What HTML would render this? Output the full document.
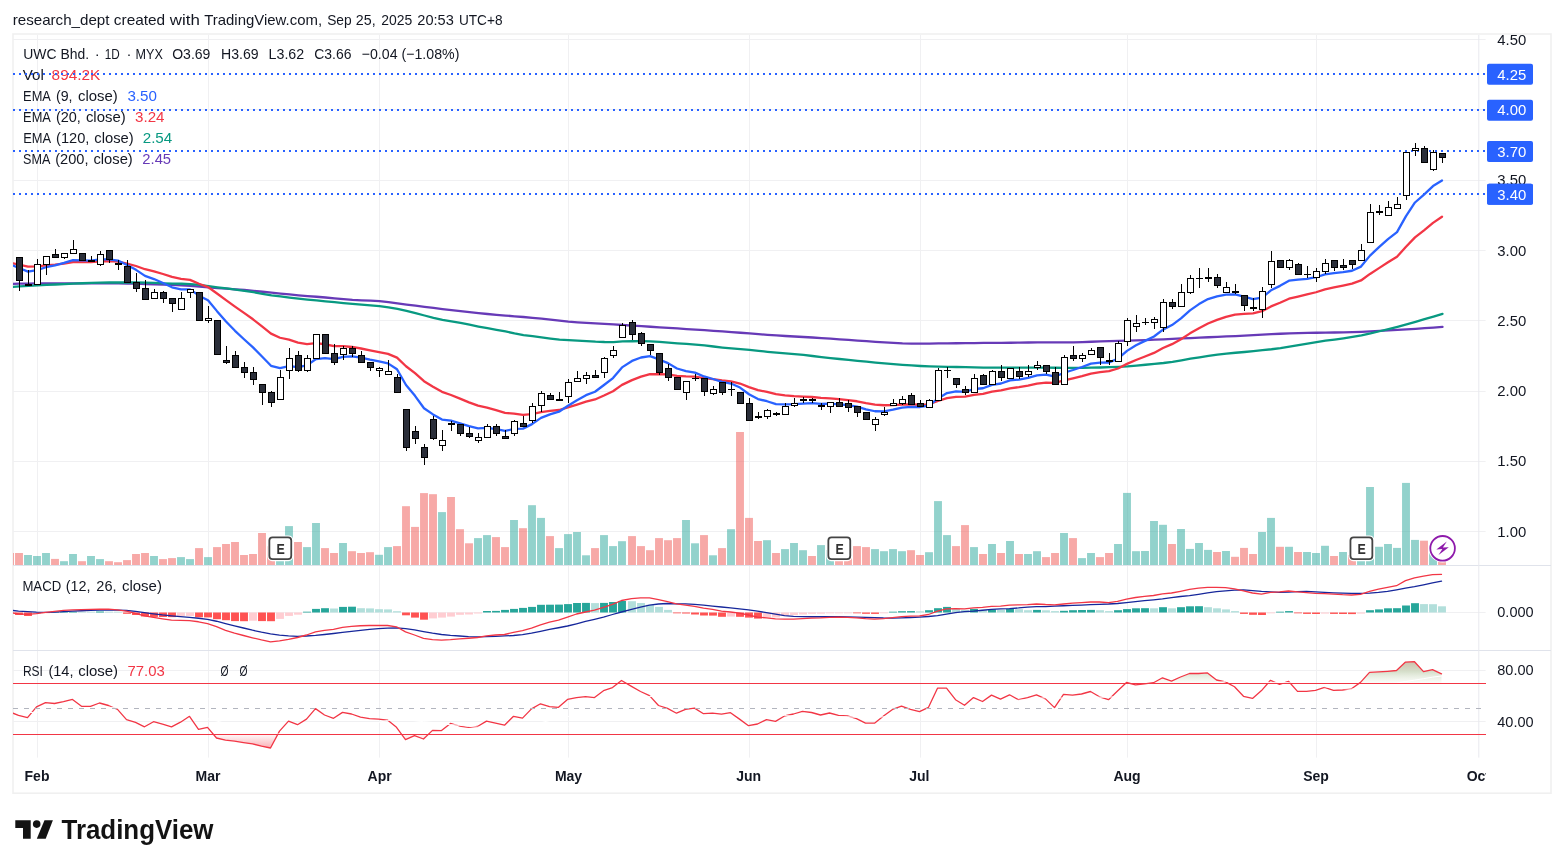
<!DOCTYPE html>
<html><head><meta charset="utf-8"><title>UWC Bhd. chart</title>
<style>html,body{margin:0;padding:0;background:#fff;}body{width:1564px;height:868px;overflow:hidden;font-family:"Liberation Sans",sans-serif;}svg{display:block;will-change:transform;}text{font-family:"Liberation Sans",sans-serif;}</style>
</head><body>
<svg width="1564" height="868" viewBox="0 0 1564 868">
<defs>
<clipPath id="cpMain"><rect x="13" y="35" width="1465.8" height="530"/></clipPath>
<clipPath id="cpMacd"><rect x="13" y="565.6" width="1465.8" height="84.4"/></clipPath>
<clipPath id="cpRsi"><rect x="13" y="650.8" width="1465.8" height="107"/></clipPath>
<clipPath id="cpOct"><rect x="1400" y="760" width="86" height="30"/></clipPath>
<linearGradient id="gOB" gradientUnits="userSpaceOnUse" x1="0" y1="660" x2="0" y2="683.5"><stop offset="0" stop-color="#c9b8a2" stop-opacity="0.95"/><stop offset="0.5" stop-color="#d2dcc6" stop-opacity="0.9"/><stop offset="1" stop-color="#e6efde" stop-opacity="0.15"/></linearGradient>
<linearGradient id="gOS" gradientUnits="userSpaceOnUse" x1="0" y1="734.5" x2="0" y2="750"><stop offset="0" stop-color="#f23645" stop-opacity="0.03"/><stop offset="1" stop-color="#f23645" stop-opacity="0.45"/></linearGradient>
</defs>
<rect x="0" y="0" width="1564" height="868" fill="#ffffff"/>
<rect x="13" y="34" width="1538" height="759.2" fill="none" stroke="#f0f0f0" stroke-width="1.6"/>
<g stroke="#f0f0f2" stroke-width="1" shape-rendering="auto">
<line x1="37.5" y1="35" x2="37.5" y2="757.6"/>
<line x1="208.5" y1="35" x2="208.5" y2="757.6"/>
<line x1="379.5" y1="35" x2="379.5" y2="757.6"/>
<line x1="568.5" y1="35" x2="568.5" y2="757.6"/>
<line x1="749.5" y1="35" x2="749.5" y2="757.6"/>
<line x1="920.5" y1="35" x2="920.5" y2="757.6"/>
<line x1="1127.5" y1="35" x2="1127.5" y2="757.6"/>
<line x1="1316.5" y1="35" x2="1316.5" y2="757.6"/>
<line x1="13" y1="39.5" x2="1485.6" y2="39.5"/>
<line x1="13" y1="109.5" x2="1485.6" y2="109.5"/>
<line x1="13" y1="180.5" x2="1485.6" y2="180.5"/>
<line x1="13" y1="250.5" x2="1485.6" y2="250.5"/>
<line x1="13" y1="320.5" x2="1485.6" y2="320.5"/>
<line x1="13" y1="391.5" x2="1485.6" y2="391.5"/>
<line x1="13" y1="461.5" x2="1485.6" y2="461.5"/>
<line x1="13" y1="531.5" x2="1485.6" y2="531.5"/>
<line x1="13" y1="670.5" x2="1485.6" y2="670.5"/>
<line x1="13" y1="721.5" x2="1485.6" y2="721.5"/>
</g>
<line x1="13" y1="612.5" x2="1485.6" y2="612.5" stroke="#f0f0f2" stroke-width="1"/>
<g stroke="#e0e3eb" stroke-width="1">
<line x1="13" y1="565.5" x2="1551" y2="565.5"/>
<line x1="13" y1="650.5" x2="1551" y2="650.5"/>
</g>
<line x1="1478.8" y1="35" x2="1478.8" y2="757.6" stroke="#e8e9ee" stroke-width="1"/>
<g clip-path="url(#cpMain)">
<rect x="6.05" y="553" width="7.9" height="12" fill="rgba(239,83,80,0.5)"/>
<rect x="15.05" y="553" width="7.9" height="12" fill="rgba(239,83,80,0.5)"/>
<rect x="24.05" y="555" width="7.9" height="10" fill="rgba(38,166,154,0.5)"/>
<rect x="33.05" y="556" width="7.9" height="9" fill="rgba(38,166,154,0.5)"/>
<rect x="42.05" y="553" width="7.9" height="12" fill="rgba(38,166,154,0.5)"/>
<rect x="51.05" y="558.9" width="7.9" height="6.1" fill="rgba(239,83,80,0.5)"/>
<rect x="60.05" y="561.2" width="7.9" height="3.8" fill="rgba(38,166,154,0.5)"/>
<rect x="69.05" y="554" width="7.9" height="11" fill="rgba(38,166,154,0.5)"/>
<rect x="78.05" y="561.2" width="7.9" height="3.8" fill="rgba(239,83,80,0.5)"/>
<rect x="87.05" y="556" width="7.9" height="9" fill="rgba(38,166,154,0.5)"/>
<rect x="96.05" y="559.1" width="7.9" height="5.9" fill="rgba(38,166,154,0.5)"/>
<rect x="105.05" y="561.2" width="7.9" height="3.8" fill="rgba(239,83,80,0.5)"/>
<rect x="114.05" y="562.2" width="7.9" height="2.8" fill="rgba(239,83,80,0.5)"/>
<rect x="123.05" y="560.1" width="7.9" height="4.9" fill="rgba(239,83,80,0.5)"/>
<rect x="132.05" y="554" width="7.9" height="11" fill="rgba(239,83,80,0.5)"/>
<rect x="141.05" y="553" width="7.9" height="12" fill="rgba(239,83,80,0.5)"/>
<rect x="150.05" y="556" width="7.9" height="9" fill="rgba(38,166,154,0.5)"/>
<rect x="159.05" y="559.1" width="7.9" height="5.9" fill="rgba(239,83,80,0.5)"/>
<rect x="168.05" y="558.1" width="7.9" height="6.9" fill="rgba(239,83,80,0.5)"/>
<rect x="177.05" y="557.1" width="7.9" height="7.9" fill="rgba(38,166,154,0.5)"/>
<rect x="186.05" y="559.1" width="7.9" height="5.9" fill="rgba(38,166,154,0.5)"/>
<rect x="195.05" y="548.1" width="7.9" height="16.9" fill="rgba(239,83,80,0.5)"/>
<rect x="204.05" y="557.1" width="7.9" height="7.9" fill="rgba(38,166,154,0.5)"/>
<rect x="213.05" y="547.1" width="7.9" height="17.9" fill="rgba(239,83,80,0.5)"/>
<rect x="222.05" y="544" width="7.9" height="21" fill="rgba(239,83,80,0.5)"/>
<rect x="231.05" y="542" width="7.9" height="23" fill="rgba(239,83,80,0.5)"/>
<rect x="240.05" y="555" width="7.9" height="10" fill="rgba(239,83,80,0.5)"/>
<rect x="249.05" y="554" width="7.9" height="11" fill="rgba(239,83,80,0.5)"/>
<rect x="258.05" y="533" width="7.9" height="32" fill="rgba(239,83,80,0.5)"/>
<rect x="267.05" y="546.2" width="7.9" height="18.8" fill="rgba(239,83,80,0.5)"/>
<rect x="276.05" y="552" width="7.9" height="13" fill="rgba(38,166,154,0.5)"/>
<rect x="285.05" y="526.1" width="7.9" height="38.9" fill="rgba(38,166,154,0.5)"/>
<rect x="294.05" y="542" width="7.9" height="23" fill="rgba(239,83,80,0.5)"/>
<rect x="303.05" y="547.1" width="7.9" height="17.9" fill="rgba(38,166,154,0.5)"/>
<rect x="312.05" y="523" width="7.9" height="42" fill="rgba(38,166,154,0.5)"/>
<rect x="321.05" y="548.1" width="7.9" height="16.9" fill="rgba(239,83,80,0.5)"/>
<rect x="330.05" y="553" width="7.9" height="12" fill="rgba(239,83,80,0.5)"/>
<rect x="339.05" y="543" width="7.9" height="22" fill="rgba(38,166,154,0.5)"/>
<rect x="348.05" y="551.2" width="7.9" height="13.8" fill="rgba(239,83,80,0.5)"/>
<rect x="357.05" y="553" width="7.9" height="12" fill="rgba(239,83,80,0.5)"/>
<rect x="366.05" y="552.2" width="7.9" height="12.8" fill="rgba(239,83,80,0.5)"/>
<rect x="375.05" y="554.8" width="7.9" height="10.2" fill="rgba(38,166,154,0.5)"/>
<rect x="384.05" y="547.1" width="7.9" height="17.9" fill="rgba(38,166,154,0.5)"/>
<rect x="393.05" y="546.1" width="7.9" height="18.9" fill="rgba(239,83,80,0.5)"/>
<rect x="402.05" y="506.2" width="7.9" height="58.8" fill="rgba(239,83,80,0.5)"/>
<rect x="411.05" y="526.9" width="7.9" height="38.1" fill="rgba(239,83,80,0.5)"/>
<rect x="420.05" y="493.1" width="7.9" height="71.9" fill="rgba(239,83,80,0.5)"/>
<rect x="429.05" y="494.2" width="7.9" height="70.8" fill="rgba(239,83,80,0.5)"/>
<rect x="438.05" y="512.1" width="7.9" height="52.9" fill="rgba(38,166,154,0.5)"/>
<rect x="447.05" y="497" width="7.9" height="68" fill="rgba(239,83,80,0.5)"/>
<rect x="456.05" y="529.2" width="7.9" height="35.8" fill="rgba(239,83,80,0.5)"/>
<rect x="465.05" y="543.3" width="7.9" height="21.7" fill="rgba(239,83,80,0.5)"/>
<rect x="474.05" y="538.1" width="7.9" height="26.9" fill="rgba(38,166,154,0.5)"/>
<rect x="483.05" y="535.1" width="7.9" height="29.9" fill="rgba(38,166,154,0.5)"/>
<rect x="492.05" y="537.1" width="7.9" height="27.9" fill="rgba(239,83,80,0.5)"/>
<rect x="501.05" y="547.1" width="7.9" height="17.9" fill="rgba(239,83,80,0.5)"/>
<rect x="510.05" y="520" width="7.9" height="45" fill="rgba(38,166,154,0.5)"/>
<rect x="519.05" y="528.2" width="7.9" height="36.8" fill="rgba(239,83,80,0.5)"/>
<rect x="528.05" y="505.2" width="7.9" height="59.8" fill="rgba(38,166,154,0.5)"/>
<rect x="537.05" y="517.9" width="7.9" height="47.1" fill="rgba(38,166,154,0.5)"/>
<rect x="546.05" y="536.1" width="7.9" height="28.9" fill="rgba(239,83,80,0.5)"/>
<rect x="555.05" y="548.1" width="7.9" height="16.9" fill="rgba(38,166,154,0.5)"/>
<rect x="564.05" y="534.1" width="7.9" height="30.9" fill="rgba(38,166,154,0.5)"/>
<rect x="573.05" y="532" width="7.9" height="33" fill="rgba(38,166,154,0.5)"/>
<rect x="582.05" y="555.3" width="7.9" height="9.7" fill="rgba(38,166,154,0.5)"/>
<rect x="591.05" y="548.1" width="7.9" height="16.9" fill="rgba(239,83,80,0.5)"/>
<rect x="600.05" y="535.1" width="7.9" height="29.9" fill="rgba(38,166,154,0.5)"/>
<rect x="609.05" y="546.1" width="7.9" height="18.9" fill="rgba(38,166,154,0.5)"/>
<rect x="618.05" y="541.2" width="7.9" height="23.8" fill="rgba(38,166,154,0.5)"/>
<rect x="628.05" y="536.1" width="7.9" height="28.9" fill="rgba(239,83,80,0.5)"/>
<rect x="637.05" y="546.1" width="7.9" height="18.9" fill="rgba(239,83,80,0.5)"/>
<rect x="646.05" y="550.2" width="7.9" height="14.8" fill="rgba(239,83,80,0.5)"/>
<rect x="655.05" y="538.1" width="7.9" height="26.9" fill="rgba(239,83,80,0.5)"/>
<rect x="664.05" y="540.2" width="7.9" height="24.8" fill="rgba(239,83,80,0.5)"/>
<rect x="673.05" y="538.1" width="7.9" height="26.9" fill="rgba(239,83,80,0.5)"/>
<rect x="682.05" y="520" width="7.9" height="45" fill="rgba(38,166,154,0.5)"/>
<rect x="691.05" y="543.3" width="7.9" height="21.7" fill="rgba(38,166,154,0.5)"/>
<rect x="700.05" y="535.1" width="7.9" height="29.9" fill="rgba(239,83,80,0.5)"/>
<rect x="709.05" y="555.3" width="7.9" height="9.7" fill="rgba(38,166,154,0.5)"/>
<rect x="718.05" y="548.1" width="7.9" height="16.9" fill="rgba(239,83,80,0.5)"/>
<rect x="727.05" y="529.2" width="7.9" height="35.8" fill="rgba(38,166,154,0.5)"/>
<rect x="736.05" y="432" width="7.9" height="133" fill="rgba(239,83,80,0.5)"/>
<rect x="745.05" y="517.9" width="7.9" height="47.1" fill="rgba(239,83,80,0.5)"/>
<rect x="754.05" y="541" width="7.9" height="24" fill="rgba(239,83,80,0.5)"/>
<rect x="763.05" y="540.2" width="7.9" height="24.8" fill="rgba(38,166,154,0.5)"/>
<rect x="772.05" y="553" width="7.9" height="12" fill="rgba(239,83,80,0.5)"/>
<rect x="781.05" y="549.1" width="7.9" height="15.9" fill="rgba(38,166,154,0.5)"/>
<rect x="790.05" y="543" width="7.9" height="22" fill="rgba(38,166,154,0.5)"/>
<rect x="799.05" y="550.2" width="7.9" height="14.8" fill="rgba(38,166,154,0.5)"/>
<rect x="808.05" y="556" width="7.9" height="9" fill="rgba(239,83,80,0.5)"/>
<rect x="817.05" y="545.1" width="7.9" height="19.9" fill="rgba(38,166,154,0.5)"/>
<rect x="826.05" y="550" width="7.9" height="15" fill="rgba(38,166,154,0.5)"/>
<rect x="835.05" y="555" width="7.9" height="10" fill="rgba(239,83,80,0.5)"/>
<rect x="844.05" y="553" width="7.9" height="12" fill="rgba(239,83,80,0.5)"/>
<rect x="853.05" y="546.1" width="7.9" height="18.9" fill="rgba(239,83,80,0.5)"/>
<rect x="862.05" y="547.1" width="7.9" height="17.9" fill="rgba(239,83,80,0.5)"/>
<rect x="871.05" y="549.1" width="7.9" height="15.9" fill="rgba(38,166,154,0.5)"/>
<rect x="880.05" y="551.2" width="7.9" height="13.8" fill="rgba(38,166,154,0.5)"/>
<rect x="889.05" y="549.1" width="7.9" height="15.9" fill="rgba(38,166,154,0.5)"/>
<rect x="898.05" y="551.2" width="7.9" height="13.8" fill="rgba(38,166,154,0.5)"/>
<rect x="907.05" y="550.2" width="7.9" height="14.8" fill="rgba(239,83,80,0.5)"/>
<rect x="916.05" y="555" width="7.9" height="10" fill="rgba(239,83,80,0.5)"/>
<rect x="925.05" y="552.2" width="7.9" height="12.8" fill="rgba(38,166,154,0.5)"/>
<rect x="934.05" y="501.1" width="7.9" height="63.9" fill="rgba(38,166,154,0.5)"/>
<rect x="943.05" y="535.1" width="7.9" height="29.9" fill="rgba(38,166,154,0.5)"/>
<rect x="952.05" y="546.1" width="7.9" height="18.9" fill="rgba(239,83,80,0.5)"/>
<rect x="961.05" y="525.1" width="7.9" height="39.9" fill="rgba(239,83,80,0.5)"/>
<rect x="970.05" y="547.1" width="7.9" height="17.9" fill="rgba(38,166,154,0.5)"/>
<rect x="979.05" y="554" width="7.9" height="11" fill="rgba(239,83,80,0.5)"/>
<rect x="988.05" y="544" width="7.9" height="21" fill="rgba(38,166,154,0.5)"/>
<rect x="997.05" y="553" width="7.9" height="12" fill="rgba(239,83,80,0.5)"/>
<rect x="1006.05" y="541" width="7.9" height="24" fill="rgba(38,166,154,0.5)"/>
<rect x="1015.05" y="554" width="7.9" height="11" fill="rgba(239,83,80,0.5)"/>
<rect x="1024.05" y="554" width="7.9" height="11" fill="rgba(38,166,154,0.5)"/>
<rect x="1033.05" y="551.2" width="7.9" height="13.8" fill="rgba(38,166,154,0.5)"/>
<rect x="1042.05" y="557.1" width="7.9" height="7.9" fill="rgba(239,83,80,0.5)"/>
<rect x="1051.05" y="553" width="7.9" height="12" fill="rgba(239,83,80,0.5)"/>
<rect x="1060.05" y="533" width="7.9" height="32" fill="rgba(38,166,154,0.5)"/>
<rect x="1069.05" y="538.1" width="7.9" height="26.9" fill="rgba(239,83,80,0.5)"/>
<rect x="1078.05" y="558.1" width="7.9" height="6.9" fill="rgba(38,166,154,0.5)"/>
<rect x="1087.05" y="553" width="7.9" height="12" fill="rgba(38,166,154,0.5)"/>
<rect x="1096.05" y="557.1" width="7.9" height="7.9" fill="rgba(239,83,80,0.5)"/>
<rect x="1105.05" y="553" width="7.9" height="12" fill="rgba(239,83,80,0.5)"/>
<rect x="1114.05" y="544" width="7.9" height="21" fill="rgba(38,166,154,0.5)"/>
<rect x="1123.05" y="492.9" width="7.9" height="72.1" fill="rgba(38,166,154,0.5)"/>
<rect x="1132.05" y="551.2" width="7.9" height="13.8" fill="rgba(38,166,154,0.5)"/>
<rect x="1141.05" y="551" width="7.9" height="14" fill="rgba(38,166,154,0.5)"/>
<rect x="1150.05" y="521" width="7.9" height="44" fill="rgba(38,166,154,0.5)"/>
<rect x="1159.05" y="524.8" width="7.9" height="40.2" fill="rgba(38,166,154,0.5)"/>
<rect x="1168.05" y="544" width="7.9" height="21" fill="rgba(239,83,80,0.5)"/>
<rect x="1177.05" y="529" width="7.9" height="36" fill="rgba(38,166,154,0.5)"/>
<rect x="1186.05" y="548.9" width="7.9" height="16.1" fill="rgba(38,166,154,0.5)"/>
<rect x="1195.05" y="543" width="7.9" height="22" fill="rgba(38,166,154,0.5)"/>
<rect x="1204.05" y="549.9" width="7.9" height="15.1" fill="rgba(38,166,154,0.5)"/>
<rect x="1213.05" y="552" width="7.9" height="13" fill="rgba(239,83,80,0.5)"/>
<rect x="1222.05" y="551" width="7.9" height="14" fill="rgba(38,166,154,0.5)"/>
<rect x="1231.05" y="556.8" width="7.9" height="8.2" fill="rgba(239,83,80,0.5)"/>
<rect x="1240.05" y="547.9" width="7.9" height="17.1" fill="rgba(239,83,80,0.5)"/>
<rect x="1249.05" y="554" width="7.9" height="11" fill="rgba(239,83,80,0.5)"/>
<rect x="1258.05" y="532" width="7.9" height="33" fill="rgba(38,166,154,0.5)"/>
<rect x="1267.05" y="517.9" width="7.9" height="47.1" fill="rgba(38,166,154,0.5)"/>
<rect x="1276.05" y="546.8" width="7.9" height="18.2" fill="rgba(239,83,80,0.5)"/>
<rect x="1285.05" y="546.8" width="7.9" height="18.2" fill="rgba(38,166,154,0.5)"/>
<rect x="1294.05" y="552" width="7.9" height="13" fill="rgba(239,83,80,0.5)"/>
<rect x="1303.05" y="552" width="7.9" height="13" fill="rgba(38,166,154,0.5)"/>
<rect x="1312.05" y="553" width="7.9" height="12" fill="rgba(38,166,154,0.5)"/>
<rect x="1321.05" y="545.8" width="7.9" height="19.2" fill="rgba(38,166,154,0.5)"/>
<rect x="1330.05" y="556" width="7.9" height="9" fill="rgba(239,83,80,0.5)"/>
<rect x="1339.05" y="552" width="7.9" height="13" fill="rgba(38,166,154,0.5)"/>
<rect x="1348.05" y="555" width="7.9" height="10" fill="rgba(239,83,80,0.5)"/>
<rect x="1357.05" y="551" width="7.9" height="14" fill="rgba(38,166,154,0.5)"/>
<rect x="1366.05" y="487" width="7.9" height="78" fill="rgba(38,166,154,0.5)"/>
<rect x="1375.05" y="546.8" width="7.9" height="18.2" fill="rgba(38,166,154,0.5)"/>
<rect x="1384.05" y="544" width="7.9" height="21" fill="rgba(38,166,154,0.5)"/>
<rect x="1393.05" y="547.9" width="7.9" height="17.1" fill="rgba(38,166,154,0.5)"/>
<rect x="1402.05" y="482.9" width="7.9" height="82.1" fill="rgba(38,166,154,0.5)"/>
<rect x="1411.05" y="539.9" width="7.9" height="25.1" fill="rgba(38,166,154,0.5)"/>
<rect x="1420.05" y="540.7" width="7.9" height="24.3" fill="rgba(239,83,80,0.5)"/>
<rect x="1429.05" y="552" width="7.9" height="13" fill="rgba(38,166,154,0.5)"/>
<rect x="1438.05" y="556" width="7.9" height="9" fill="rgba(239,83,80,0.5)"/>
</g>
<text x="12.7" y="24.9" font-size="15.0" fill="#131722" textLength="96.8" lengthAdjust="spacingAndGlyphs" >research_dept</text>
<text x="113.8" y="24.9" font-size="15.0" fill="#131722" textLength="51.4" lengthAdjust="spacingAndGlyphs" >created</text>
<text x="169.8" y="24.9" font-size="15.0" fill="#131722" textLength="30" lengthAdjust="spacingAndGlyphs" >with</text>
<text x="204.2" y="24.9" font-size="15.0" fill="#131722" textLength="117.9" lengthAdjust="spacingAndGlyphs" >TradingView.com,</text>
<text x="327.2" y="24.9" font-size="15.0" fill="#131722" textLength="24.5" lengthAdjust="spacingAndGlyphs" >Sep</text>
<text x="355.8" y="24.9" font-size="15.0" fill="#131722" textLength="19.8" lengthAdjust="spacingAndGlyphs" >25,</text>
<text x="381.2" y="24.9" font-size="15.0" fill="#131722" textLength="31" lengthAdjust="spacingAndGlyphs" >2025</text>
<text x="417.3" y="24.9" font-size="15.0" fill="#131722" textLength="36.5" lengthAdjust="spacingAndGlyphs" >20:53</text>
<text x="458.9" y="24.9" font-size="15.0" fill="#131722" textLength="43.6" lengthAdjust="spacingAndGlyphs" >UTC+8</text>
<text x="23.3" y="58.9" font-size="15.0" fill="#131722" textLength="65.8" lengthAdjust="spacingAndGlyphs" >UWC Bhd.</text>
<text x="94.8" y="58.9" font-size="15.0" fill="#131722" >&#183;</text>
<text x="104.7" y="58.9" font-size="15.0" fill="#131722" textLength="15" lengthAdjust="spacingAndGlyphs" >1D</text>
<text x="126.4" y="58.9" font-size="15.0" fill="#131722" >&#183;</text>
<text x="135.6" y="58.9" font-size="15.0" fill="#131722" textLength="27.3" lengthAdjust="spacingAndGlyphs" >MYX</text>
<text x="172.2" y="58.9" font-size="15.0" fill="#131722" textLength="38.2" lengthAdjust="spacingAndGlyphs" >O3.69</text>
<text x="221" y="58.9" font-size="15.0" fill="#131722" textLength="37.6" lengthAdjust="spacingAndGlyphs" >H3.69</text>
<text x="268.6" y="58.9" font-size="15.0" fill="#131722" textLength="35.6" lengthAdjust="spacingAndGlyphs" >L3.62</text>
<text x="314.2" y="58.9" font-size="15.0" fill="#131722" textLength="37.2" lengthAdjust="spacingAndGlyphs" >C3.66</text>
<text x="361.7" y="58.9" font-size="15.0" fill="#131722" textLength="97.7" lengthAdjust="spacingAndGlyphs" >&#8722;0.04 (&#8722;1.08%)</text>
<text x="22.7" y="79.8" font-size="15.0" fill="#131722" textLength="21.1" lengthAdjust="spacingAndGlyphs" >Vol</text>
<text x="51.6" y="79.8" font-size="15.0" fill="#f23645" textLength="48.7" lengthAdjust="spacingAndGlyphs" >894.2K</text>
<text x="23.1" y="100.8" font-size="15.0" fill="#131722" textLength="27.8" lengthAdjust="spacingAndGlyphs" >EMA</text>
<text x="55.9" y="100.8" font-size="15.0" fill="#131722" textLength="16.6" lengthAdjust="spacingAndGlyphs" >(9,</text>
<text x="78" y="100.8" font-size="15.0" fill="#131722" textLength="39.8" lengthAdjust="spacingAndGlyphs" >close)</text>
<text x="127.4" y="100.8" font-size="15.0" fill="#2962ff" textLength="29.5" lengthAdjust="spacingAndGlyphs" >3.50</text>
<text x="23.1" y="121.8" font-size="15.0" fill="#131722" textLength="27.8" lengthAdjust="spacingAndGlyphs" >EMA</text>
<text x="55.9" y="121.8" font-size="15.0" fill="#131722" textLength="24.9" lengthAdjust="spacingAndGlyphs" >(20,</text>
<text x="85.9" y="121.8" font-size="15.0" fill="#131722" textLength="39.8" lengthAdjust="spacingAndGlyphs" >close)</text>
<text x="135" y="121.8" font-size="15.0" fill="#f23645" textLength="29.5" lengthAdjust="spacingAndGlyphs" >3.24</text>
<text x="23.2" y="142.9" font-size="15.0" fill="#131722" textLength="27.9" lengthAdjust="spacingAndGlyphs" >EMA</text>
<text x="56" y="142.9" font-size="15.0" fill="#131722" textLength="33.4" lengthAdjust="spacingAndGlyphs" >(120,</text>
<text x="94.3" y="142.9" font-size="15.0" fill="#131722" textLength="39.4" lengthAdjust="spacingAndGlyphs" >close)</text>
<text x="142.7" y="142.9" font-size="15.0" fill="#089981" textLength="29.6" lengthAdjust="spacingAndGlyphs" >2.54</text>
<text x="23" y="163.9" font-size="15.0" fill="#131722" textLength="27.3" lengthAdjust="spacingAndGlyphs" >SMA</text>
<text x="55.2" y="163.9" font-size="15.0" fill="#131722" textLength="33.3" lengthAdjust="spacingAndGlyphs" >(200,</text>
<text x="93.4" y="163.9" font-size="15.0" fill="#131722" textLength="39.4" lengthAdjust="spacingAndGlyphs" >close)</text>
<text x="142.3" y="163.9" font-size="15.0" fill="#673ab7" textLength="28.8" lengthAdjust="spacingAndGlyphs" >2.45</text>
<text x="22.4" y="590.9" font-size="15.0" fill="#131722" textLength="38.8" lengthAdjust="spacingAndGlyphs" >MACD</text>
<text x="65.8" y="590.9" font-size="15.0" fill="#131722" textLength="24.8" lengthAdjust="spacingAndGlyphs" >(12,</text>
<text x="96.3" y="590.9" font-size="15.0" fill="#131722" textLength="20.2" lengthAdjust="spacingAndGlyphs" >26,</text>
<text x="121.9" y="590.9" font-size="15.0" fill="#131722" textLength="40" lengthAdjust="spacingAndGlyphs" >close)</text>
<text x="22.9" y="675.9" font-size="15.0" fill="#131722" textLength="20" lengthAdjust="spacingAndGlyphs" >RSI</text>
<text x="48.4" y="675.9" font-size="15.0" fill="#131722" textLength="25.1" lengthAdjust="spacingAndGlyphs" >(14,</text>
<text x="78.2" y="675.9" font-size="15.0" fill="#131722" textLength="39.9" lengthAdjust="spacingAndGlyphs" >close)</text>
<text x="127.5" y="675.9" font-size="15.0" fill="#f23645" textLength="37.3" lengthAdjust="spacingAndGlyphs" >77.03</text>
<text x="220.6" y="675.9" font-size="15.0" fill="#131722" textLength="8" lengthAdjust="spacingAndGlyphs" >&#216;</text>
<text x="239.6" y="675.9" font-size="15.0" fill="#131722" textLength="8" lengthAdjust="spacingAndGlyphs" >&#216;</text>
<g stroke="#2962ff" stroke-width="2" stroke-dasharray="2 4" stroke-dashoffset="0">
<line x1="13" y1="74" x2="1486.5" y2="74"/>
<line x1="13" y1="110" x2="1486.5" y2="110"/>
<line x1="13" y1="151" x2="1486.5" y2="151"/>
<line x1="13" y1="194" x2="1486.5" y2="194"/>
</g>
<g clip-path="url(#cpMain)">
<polyline points="13,283.8 19.5,283.7 28.5,283.58 37.5,283.47 46.5,283.38 55.5,283.32 64.5,283.3 73.5,283.3 82.5,283.3 91.5,283.3 100.5,283.3 109.5,283.3 118.5,283.35 127.5,283.5 136.5,283.72 145.5,283.99 154.5,284.29 163.5,284.6 172.5,284.94 181.5,285.38 190.5,285.89 199.5,286.55 208.5,287.34 217.5,288.09 226.5,288.72 235.5,289.32 244.5,289.98 253.5,290.81 262.5,291.75 271.5,292.68 280.5,293.57 289.5,294.45 298.5,295.28 307.5,296.04 316.5,296.75 325.5,297.48 334.5,298.32 343.5,299.18 352.5,299.89 361.5,300.34 370.5,300.7 379.5,301.19 388.5,302.14 397.5,303.41 406.5,304.55 415.5,305.69 424.5,306.83 433.5,307.95 442.5,309.03 451.5,310.1 460.5,311.15 469.5,312.16 478.5,313.12 487.5,314 496.5,314.8 505.5,315.55 514.5,316.28 523.5,317.02 532.5,317.8 541.5,318.65 550.5,319.65 559.5,320.7 568.5,321.62 577.5,322.29 586.5,322.84 595.5,323.35 604.5,323.89 613.5,324.45 622.5,325 632.5,325.63 641.5,326.19 650.5,326.76 659.5,327.33 668.5,327.9 677.5,328.47 686.5,329.05 695.5,329.62 704.5,330.21 713.5,330.81 722.5,331.42 731.5,332.07 740.5,332.77 749.5,333.47 758.5,334.17 767.5,334.83 776.5,335.44 785.5,335.98 794.5,336.48 803.5,337 812.5,337.52 821.5,338.06 830.5,338.64 839.5,339.28 848.5,339.93 857.5,340.56 866.5,341.19 875.5,341.79 884.5,342.34 893.5,342.89 902.5,343.35 911.5,343.59 920.5,343.7 929.5,343.58 938.5,343.45 947.5,343.35 956.5,343.25 965.5,343.15 974.5,343.04 983.5,342.94 992.5,342.86 1001.5,342.8 1010.5,342.74 1019.5,342.65 1028.5,342.52 1037.5,342.41 1046.5,342.4 1055.5,342.4 1064.5,342.4 1073.5,342.35 1082.5,342.08 1091.5,341.73 1100.5,341.45 1109.5,341.19 1118.5,340.92 1127.5,340.63 1136.5,340.34 1145.5,340.03 1154.5,339.69 1163.5,339.3 1172.5,338.89 1181.5,338.46 1190.5,338.04 1199.5,337.64 1208.5,337.24 1217.5,336.84 1226.5,336.44 1235.5,336.04 1244.5,335.63 1253.5,335.2 1262.5,334.71 1271.5,334.2 1280.5,333.73 1289.5,333.32 1298.5,333.03 1307.5,332.87 1316.5,332.76 1325.5,332.63 1334.5,332.5 1343.5,332.36 1352.5,332.17 1361.5,331.81 1370.5,331.32 1379.5,330.82 1388.5,330.38 1397.5,329.96 1406.5,329.44 1415.5,328.82 1424.5,328.18 1433.5,327.55 1442.5,326.91" fill="none" stroke="#673ab7" stroke-width="2.3" stroke-linejoin="round" stroke-linecap="round" />
<polyline points="13,286.8 19.5,286.41 28.5,285.89 37.5,285.39 46.5,284.93 55.5,284.5 64.5,284.1 73.5,283.69 82.5,283.26 91.5,282.88 100.5,282.61 109.5,282.5 118.5,282.5 127.5,282.5 136.5,282.5 145.5,282.65 154.5,282.97 163.5,283.3 172.5,283.53 181.5,283.76 190.5,284.1 199.5,284.86 208.5,286.06 217.5,287.29 226.5,288.4 235.5,289.53 244.5,290.77 253.5,292.23 262.5,293.83 271.5,295.27 280.5,296.47 289.5,297.56 298.5,298.58 307.5,299.52 316.5,300.41 325.5,301.28 334.5,302.17 343.5,303.04 352.5,303.88 361.5,304.63 370.5,305.33 379.5,306.18 388.5,307.31 397.5,308.81 406.5,310.86 415.5,313.22 424.5,315.51 433.5,317.87 442.5,319.92 451.5,321.48 460.5,322.96 469.5,324.72 478.5,326.56 487.5,328.23 496.5,329.77 505.5,331.43 514.5,333.36 523.5,335.05 532.5,336.22 541.5,337.29 550.5,338.53 559.5,339.57 568.5,340.13 577.5,340.53 586.5,341.05 595.5,341.64 604.5,341.99 613.5,342.04 622.5,341.39 632.5,341.25 641.5,341.2 650.5,341.34 659.5,341.8 668.5,342.62 677.5,343.33 686.5,343.95 695.5,344.62 704.5,345.45 713.5,346.51 722.5,347.53 731.5,348.36 740.5,349.13 749.5,349.94 758.5,350.84 767.5,351.78 776.5,352.66 785.5,353.42 794.5,354.15 803.5,354.97 812.5,355.99 821.5,357.08 830.5,358.08 839.5,359 848.5,359.88 857.5,360.79 866.5,361.72 875.5,362.63 884.5,363.44 893.5,364.2 902.5,364.87 911.5,365.46 920.5,366 929.5,366.44 938.5,366.7 947.5,366.88 956.5,367.02 965.5,367.19 974.5,367.41 983.5,367.57 992.5,367.6 1001.5,367.6 1010.5,367.6 1019.5,367.6 1028.5,367.6 1037.5,367.6 1046.5,367.63 1055.5,367.76 1064.5,367.88 1073.5,367.89 1082.5,367.8 1091.5,367.67 1100.5,367.49 1109.5,367.19 1118.5,366.79 1127.5,366.28 1136.5,365.56 1145.5,364.73 1154.5,363.91 1163.5,363 1172.5,361.82 1181.5,360.3 1190.5,358.72 1199.5,357.28 1208.5,355.85 1217.5,354.58 1226.5,353.58 1235.5,352.77 1244.5,351.98 1253.5,351.11 1262.5,350.23 1271.5,349.24 1280.5,348.03 1289.5,346.57 1298.5,345.05 1307.5,343.53 1316.5,342.02 1325.5,340.71 1334.5,339.57 1343.5,338.31 1352.5,336.89 1361.5,335.28 1370.5,333.37 1379.5,331.25 1388.5,329.1 1397.5,326.86 1406.5,324.45 1415.5,321.84 1424.5,319.21 1433.5,316.58 1442.5,313.93" fill="none" stroke="#089981" stroke-width="2.3" stroke-linejoin="round" stroke-linecap="round" />
<polyline points="13,263.29 19,264.55 28,266.59 37,266.34 46,265.35 55,264.63 64,263.52 73,262.14 82,262.04 91,262.03 100,261.27 109,261.15 118,261.53 127,263.58 136,265.99 145,269.22 154,271.37 163,274.01 172,276.88 181,278.88 190,279.88 199,283.78 208,287.05 217,293.52 226,300.15 235,306.6 244,312.93 253,319.31 262,326.34 271,333.64 280,337.75 289,339.69 298,342.71 307,344.18 316,343.21 325,344.25 334,346.03 343,346.22 352,346.98 361,348.5 370,350.37 379,352.06 388,353.87 397,357.6 406,366.22 415,373.15 424,381.22 433,386.73 442,391.81 451,394.98 460,398.68 469,402.35 478,405.67 487,407.61 496,410.11 505,412.84 514,413.6 523,414.89 532,414.05 541,412.07 550,410.91 559,409.99 568,407.33 577,404.53 586,401.72 595,399.48 604,395.54 613,391.21 622,384.88 632,380.13 641,376.68 650,374.23 659,374.06 668,374.42 677,375.9 686,376.4 695,376.66 704,378.11 713,379.14 722,380.48 731,381.41 740,383.54 749,387.11 758,390.06 767,391.97 776,394.18 785,395.32 794,396.07 803,396.54 812,397.01 821,397.97 830,398.38 839,399.2 848,400.03 857,401.26 866,403.05 875,404.58 884,405.27 893,405.07 902,404.49 911,404.47 920,404.73 929,404.28 938,401 947,398.19 956,396.94 965,396.58 974,394.8 983,393.88 992,391.72 1001,390.43 1010,388.29 1019,387.14 1028,385.62 1037,383.66 1046,382.56 1055,382.78 1064,380.31 1073,378.28 1082,376.07 1091,373.58 1100,372.12 1109,371.19 1118,368.5 1127,363.88 1136,359.99 1145,356.49 1154,352.92 1163,348.07 1172,344.16 1181,339.17 1190,333.35 1199,328.19 1208,323.5 1217,319.92 1226,316.79 1235,314.58 1244,313.78 1253,313.32 1262,311.21 1271,306.44 1280,302.79 1289,298.73 1298,296.51 1307,294.48 1316,292.25 1325,289.47 1334,287.44 1343,285.6 1352,283.66 1361,280.45 1370,273.91 1379,268.15 1388,262.33 1397,256.76 1406,246.79 1415,237.39 1424,230.28 1433,222.84 1442,216.69" fill="none" stroke="#f23645" stroke-width="2.3" stroke-linejoin="round" stroke-linecap="round" />
<polyline points="13,265.62 19,268 28,271.59 37,270.07 46,267.24 55,265.34 64,262.88 73,260.11 82,260.29 91,260.63 100,259.31 109,259.46 118,260.58 127,265.08 136,269.84 145,275.86 154,279.05 163,283.04 172,287.27 181,289.4 190,289.38 199,295.68 208,300.16 217,311.13 226,321.52 235,330.79 244,339.25 253,347.4 262,356.52 271,365.82 280,368.01 289,366.05 298,367.11 307,365.32 316,359.06 325,358.07 334,359.04 343,356.83 352,356.32 361,357.64 370,359.73 379,361.42 388,363.34 397,369.28 406,385.04 415,395.84 424,408.25 433,414.41 442,419.55 451,420.65 460,423.3 469,426.07 478,428.3 487,427.85 496,429.06 505,430.98 514,428.97 523,428.6 532,424.1 541,417.92 550,414.32 559,411.7 568,405.78 577,400.2 586,395.16 595,391.77 604,385.04 613,378.05 622,367.39 632,360.92 641,357.51 650,356.2 659,359.45 668,363.13 677,368.49 686,371.02 695,372.65 704,376.48 713,378.99 722,381.83 731,383.52 740,387.56 749,394.24 758,399.02 767,401.24 776,404.03 785,404.44 794,404.2 803,403.56 812,403.14 821,403.94 830,403.6 839,404.28 848,405.01 857,406.6 866,409.28 875,411.25 884,411.37 893,409.73 902,407.58 911,406.93 920,406.98 929,405.57 938,398.42 947,393.04 956,391.45 965,391.8 974,389.01 983,388.23 992,384.82 1001,383.5 1010,380.38 1019,379.56 1028,377.89 1037,375.31 1046,374.67 1055,376.72 1064,372.73 1073,369.99 1082,367.01 1091,363.59 1100,362.53 1109,362.49 1118,358.59 1127,350.87 1136,345.3 1145,340.88 1154,336.51 1163,329.6 1172,325.09 1181,318.43 1190,310.34 1199,304.12 1208,299.07 1217,296.45 1226,294.56 1235,294.38 1244,296.72 1253,299.18 1262,297.58 1271,290.29 1280,285.86 1289,280.71 1298,279.65 1307,278.77 1316,277.23 1325,274.39 1334,273.14 1343,272.13 1352,270.76 1361,266.6 1370,255.63 1379,247.18 1388,239.17 1397,232.09 1406,216.1 1415,202.49 1424,194.55 1433,186.06 1442,180.5" fill="none" stroke="#2962ff" stroke-width="2.3" stroke-linejoin="round" stroke-linecap="round" />
</g>
<g clip-path="url(#cpMain)">
<g fill="#000000"><rect x="19" y="257" width="1" height="34"/><rect x="28" y="270" width="1" height="16"/><rect x="37" y="259" width="1" height="26"/><rect x="46" y="256" width="1" height="19"/><rect x="55" y="249" width="1" height="9"/><rect x="64" y="253" width="1" height="6"/><rect x="73" y="240" width="1" height="14"/><rect x="82" y="253" width="1" height="8"/><rect x="91" y="256" width="1" height="6"/><rect x="100" y="251" width="1" height="15"/><rect x="109" y="250" width="1" height="13"/><rect x="118" y="260" width="1" height="10"/><rect x="127" y="260" width="1" height="23"/><rect x="136" y="273" width="1" height="19"/><rect x="145" y="280" width="1" height="20"/><rect x="154" y="289" width="1" height="10"/><rect x="163" y="291" width="1" height="12"/><rect x="172" y="298" width="1" height="14"/><rect x="181" y="292" width="1" height="18"/><rect x="190" y="289" width="1" height="9"/><rect x="199" y="292" width="1" height="29"/><rect x="208" y="306" width="1" height="17"/><rect x="217" y="320" width="1" height="35"/><rect x="226" y="346" width="1" height="18"/><rect x="235" y="351" width="1" height="17"/><rect x="244" y="362" width="1" height="16"/><rect x="253" y="367" width="1" height="18"/><rect x="262" y="384" width="1" height="21"/><rect x="271" y="391" width="1" height="16"/><rect x="280" y="370" width="1" height="30"/><rect x="289" y="348" width="1" height="31"/><rect x="298" y="351" width="1" height="21"/><rect x="307" y="355" width="1" height="17"/><rect x="316" y="334" width="1" height="25"/><rect x="325" y="334" width="1" height="20"/><rect x="334" y="344" width="1" height="21"/><rect x="343" y="346" width="1" height="14"/><rect x="352" y="346" width="1" height="11"/><rect x="361" y="351" width="1" height="12"/><rect x="370" y="362" width="1" height="9"/><rect x="379" y="367" width="1" height="10"/><rect x="388" y="360" width="1" height="15"/><rect x="397" y="374" width="1" height="19"/><rect x="406" y="409" width="1" height="42"/><rect x="415" y="426" width="1" height="18"/><rect x="424" y="444" width="1" height="21"/><rect x="433" y="416" width="1" height="24"/><rect x="442" y="430" width="1" height="21"/><rect x="451" y="421" width="1" height="10"/><rect x="460" y="424" width="1" height="12"/><rect x="469" y="427" width="1" height="11"/><rect x="478" y="433" width="1" height="10"/><rect x="487" y="424" width="1" height="14"/><rect x="496" y="424" width="1" height="12"/><rect x="505" y="430" width="1" height="9"/><rect x="514" y="420" width="1" height="16"/><rect x="523" y="416" width="1" height="11"/><rect x="532" y="403" width="1" height="20"/><rect x="541" y="391" width="1" height="21"/><rect x="550" y="393" width="1" height="7"/><rect x="559" y="392" width="1" height="9"/><rect x="568" y="379" width="1" height="24"/><rect x="577" y="371" width="1" height="11"/><rect x="586" y="372" width="1" height="12"/><rect x="595" y="370" width="1" height="8"/><rect x="604" y="357" width="1" height="21"/><rect x="613" y="346" width="1" height="12"/><rect x="622" y="323" width="1" height="15"/><rect x="632" y="320" width="1" height="20"/><rect x="641" y="332" width="1" height="14"/><rect x="650" y="344" width="1" height="11"/><rect x="659" y="353" width="1" height="22"/><rect x="668" y="364" width="1" height="17"/><rect x="677" y="377" width="1" height="13"/><rect x="686" y="381" width="1" height="19"/><rect x="695" y="374" width="1" height="7"/><rect x="704" y="378" width="1" height="18"/><rect x="713" y="386" width="1" height="9"/><rect x="722" y="382" width="1" height="13"/><rect x="731" y="382" width="1" height="14"/><rect x="740" y="392" width="1" height="12"/><rect x="749" y="398" width="1" height="23"/><rect x="758" y="412" width="1" height="7"/><rect x="767" y="409" width="1" height="10"/><rect x="776" y="412" width="1" height="4"/><rect x="785" y="403" width="1" height="12"/><rect x="794" y="398" width="1" height="9"/><rect x="803" y="397" width="1" height="6"/><rect x="812" y="398" width="1" height="5"/><rect x="821" y="403" width="1" height="7"/><rect x="830" y="402" width="1" height="11"/><rect x="839" y="398" width="1" height="9"/><rect x="848" y="400" width="1" height="12"/><rect x="857" y="406" width="1" height="11"/><rect x="866" y="412" width="1" height="8"/><rect x="875" y="417" width="1" height="14"/><rect x="884" y="407" width="1" height="9"/><rect x="893" y="399" width="1" height="7"/><rect x="902" y="396" width="1" height="9"/><rect x="911" y="393" width="1" height="12"/><rect x="920" y="400" width="1" height="7"/><rect x="929" y="399" width="1" height="9"/><rect x="938" y="368" width="1" height="33"/><rect x="947" y="367" width="1" height="11"/><rect x="956" y="378" width="1" height="10"/><rect x="965" y="386" width="1" height="9"/><rect x="974" y="374" width="1" height="19"/><rect x="983" y="374" width="1" height="11"/><rect x="992" y="370" width="1" height="15"/><rect x="1001" y="365" width="1" height="16"/><rect x="1010" y="368" width="1" height="11"/><rect x="1019" y="367" width="1" height="12"/><rect x="1028" y="365" width="1" height="12"/><rect x="1037" y="361" width="1" height="9"/><rect x="1046" y="365" width="1" height="9"/><rect x="1055" y="367" width="1" height="18"/><rect x="1064" y="355" width="1" height="30"/><rect x="1073" y="346" width="1" height="15"/><rect x="1082" y="353" width="1" height="9"/><rect x="1091" y="348" width="1" height="7"/><rect x="1100" y="347" width="1" height="18"/><rect x="1109" y="353" width="1" height="12"/><rect x="1118" y="341" width="1" height="21"/><rect x="1127" y="318" width="1" height="28"/><rect x="1136" y="315" width="1" height="17"/><rect x="1145" y="318" width="1" height="7"/><rect x="1154" y="317" width="1" height="12"/><rect x="1163" y="299" width="1" height="33"/><rect x="1172" y="299" width="1" height="10"/><rect x="1181" y="284" width="1" height="23"/><rect x="1190" y="275" width="1" height="19"/><rect x="1199" y="268" width="1" height="20"/><rect x="1208" y="268" width="1" height="14"/><rect x="1217" y="274" width="1" height="14"/><rect x="1226" y="282" width="1" height="11"/><rect x="1235" y="284" width="1" height="10"/><rect x="1244" y="295" width="1" height="16"/><rect x="1253" y="298" width="1" height="13"/><rect x="1262" y="287" width="1" height="31"/><rect x="1271" y="251" width="1" height="37"/><rect x="1280" y="260" width="1" height="8"/><rect x="1289" y="259" width="1" height="11"/><rect x="1298" y="263" width="1" height="12"/><rect x="1307" y="266" width="1" height="12"/><rect x="1316" y="268" width="1" height="14"/><rect x="1325" y="259" width="1" height="15"/><rect x="1334" y="260" width="1" height="11"/><rect x="1343" y="259" width="1" height="11"/><rect x="1352" y="260" width="1" height="9"/><rect x="1361" y="244" width="1" height="17"/><rect x="1370" y="204" width="1" height="39"/><rect x="1379" y="205" width="1" height="10"/><rect x="1388" y="201" width="1" height="15"/><rect x="1397" y="197" width="1" height="12"/><rect x="1406" y="152" width="1" height="48"/><rect x="1415" y="143" width="1" height="13"/><rect x="1424" y="146" width="1" height="17"/><rect x="1433" y="150" width="1" height="21"/><rect x="1442" y="153" width="1" height="10"/></g>
<g stroke="#000000" stroke-width="1"><rect x="16.5" y="257.5" width="6" height="23" fill="#2a2e39"/><rect x="25" y="284" width="7" height="2" fill="#000000" stroke="none"/><rect x="34.5" y="264.5" width="6" height="20" fill="#ffffff"/><rect x="43.5" y="256.5" width="6" height="8" fill="#ffffff"/><rect x="52.5" y="254.5" width="6" height="3" fill="#2a2e39"/><rect x="61.5" y="253.5" width="6" height="4" fill="#ffffff"/><rect x="70.5" y="249.5" width="6" height="4" fill="#ffffff"/><rect x="79.5" y="253.5" width="6" height="7" fill="#2a2e39"/><rect x="88" y="260" width="7" height="2" fill="#000000" stroke="none"/><rect x="97.5" y="254.5" width="6" height="10" fill="#ffffff"/><rect x="106.5" y="250.5" width="6" height="9" fill="#2a2e39"/><rect x="115" y="263" width="7" height="2" fill="#000000" stroke="none"/><rect x="124.5" y="266.5" width="6" height="16" fill="#2a2e39"/><rect x="133.5" y="282.5" width="6" height="6" fill="#2a2e39"/><rect x="142.5" y="288.5" width="6" height="11" fill="#2a2e39"/><rect x="151.5" y="292.5" width="6" height="6" fill="#ffffff"/><rect x="160.5" y="292.5" width="6" height="6" fill="#2a2e39"/><rect x="169.5" y="298.5" width="6" height="5" fill="#2a2e39"/><rect x="178.5" y="298.5" width="6" height="11" fill="#ffffff"/><rect x="187.5" y="289.5" width="6" height="3" fill="#ffffff"/><rect x="196.5" y="292.5" width="6" height="28" fill="#2a2e39"/><rect x="205.5" y="318.5" width="6" height="2" fill="#ffffff"/><rect x="214.5" y="320.5" width="6" height="34" fill="#2a2e39"/><rect x="223.5" y="360.5" width="6" height="2" fill="#2a2e39"/><rect x="232.5" y="355.5" width="6" height="12" fill="#2a2e39"/><rect x="241.5" y="367.5" width="6" height="5" fill="#2a2e39"/><rect x="250.5" y="372.5" width="6" height="7" fill="#2a2e39"/><rect x="259.5" y="384.5" width="6" height="8" fill="#2a2e39"/><rect x="268.5" y="392.5" width="6" height="10" fill="#2a2e39"/><rect x="277.5" y="377.5" width="6" height="22" fill="#ffffff"/><rect x="286.5" y="358.5" width="6" height="12" fill="#ffffff"/><rect x="295.5" y="355.5" width="6" height="15" fill="#2a2e39"/><rect x="304.5" y="358.5" width="6" height="12" fill="#ffffff"/><rect x="313.5" y="334.5" width="6" height="24" fill="#ffffff"/><rect x="322.5" y="334.5" width="6" height="19" fill="#2a2e39"/><rect x="331.5" y="353.5" width="6" height="9" fill="#2a2e39"/><rect x="340.5" y="348.5" width="6" height="6" fill="#ffffff"/><rect x="349.5" y="348.5" width="6" height="5" fill="#2a2e39"/><rect x="358.5" y="355.5" width="6" height="7" fill="#2a2e39"/><rect x="367.5" y="362.5" width="6" height="5" fill="#2a2e39"/><rect x="376.5" y="368.5" width="6" height="2" fill="#ffffff"/><rect x="385.5" y="371.5" width="6" height="3" fill="#ffffff"/><rect x="394.5" y="377.5" width="6" height="15" fill="#2a2e39"/><rect x="403.5" y="409.5" width="6" height="38" fill="#2a2e39"/><rect x="412.5" y="431.5" width="6" height="7" fill="#2a2e39"/><rect x="421.5" y="447.5" width="6" height="10" fill="#2a2e39"/><rect x="430.5" y="419.5" width="6" height="19" fill="#2a2e39"/><rect x="439.5" y="440.5" width="6" height="5" fill="#ffffff"/><rect x="448" y="423" width="7" height="2" fill="#000000" stroke="none"/><rect x="457.5" y="424.5" width="6" height="9" fill="#2a2e39"/><rect x="466.5" y="433.5" width="6" height="3" fill="#2a2e39"/><rect x="475.5" y="437.5" width="6" height="3" fill="#ffffff"/><rect x="484.5" y="426.5" width="6" height="11" fill="#ffffff"/><rect x="493.5" y="426.5" width="6" height="7" fill="#2a2e39"/><rect x="502.5" y="436.5" width="6" height="2" fill="#2a2e39"/><rect x="511.5" y="421.5" width="6" height="12" fill="#ffffff"/><rect x="520.5" y="423.5" width="6" height="3" fill="#2a2e39"/><rect x="529.5" y="406.5" width="6" height="14" fill="#ffffff"/><rect x="538.5" y="393.5" width="6" height="12" fill="#ffffff"/><rect x="547.5" y="395.5" width="6" height="4" fill="#2a2e39"/><rect x="556" y="399" width="7" height="2" fill="#000000" stroke="none"/><rect x="565.5" y="382.5" width="6" height="14" fill="#ffffff"/><rect x="574.5" y="378.5" width="6" height="3" fill="#ffffff"/><rect x="583.5" y="375.5" width="6" height="3" fill="#ffffff"/><rect x="592.5" y="375.5" width="6" height="2" fill="#2a2e39"/><rect x="601.5" y="358.5" width="6" height="14" fill="#ffffff"/><rect x="610.5" y="350.5" width="6" height="5" fill="#ffffff"/><rect x="619.5" y="325.5" width="6" height="12" fill="#ffffff"/><rect x="629.5" y="322.5" width="6" height="12" fill="#2a2e39"/><rect x="638.5" y="333.5" width="6" height="10" fill="#2a2e39"/><rect x="647.5" y="344.5" width="6" height="6" fill="#2a2e39"/><rect x="656.5" y="353.5" width="6" height="19" fill="#2a2e39"/><rect x="665.5" y="368.5" width="6" height="9" fill="#2a2e39"/><rect x="674.5" y="377.5" width="6" height="12" fill="#2a2e39"/><rect x="683.5" y="381.5" width="6" height="11" fill="#ffffff"/><rect x="692" y="378" width="7" height="1" fill="#000000" stroke="none"/><rect x="701.5" y="378.5" width="6" height="13" fill="#2a2e39"/><rect x="710.5" y="389.5" width="6" height="4" fill="#ffffff"/><rect x="719.5" y="382.5" width="6" height="10" fill="#2a2e39"/><rect x="728" y="389" width="7" height="1" fill="#000000" stroke="none"/><rect x="737.5" y="392.5" width="6" height="11" fill="#2a2e39"/><rect x="746.5" y="403.5" width="6" height="17" fill="#2a2e39"/><rect x="755" y="416" width="7" height="2" fill="#000000" stroke="none"/><rect x="764.5" y="410.5" width="6" height="6" fill="#ffffff"/><rect x="773" y="413" width="7" height="2" fill="#000000" stroke="none"/><rect x="782.5" y="406.5" width="6" height="8" fill="#ffffff"/><rect x="791.5" y="403.5" width="6" height="2" fill="#ffffff"/><rect x="800" y="399" width="7" height="2" fill="#000000" stroke="none"/><rect x="809" y="399" width="7" height="2" fill="#000000" stroke="none"/><rect x="818" y="405" width="7" height="2" fill="#000000" stroke="none"/><rect x="827.5" y="402.5" width="6" height="4" fill="#ffffff"/><rect x="836.5" y="402.5" width="6" height="4" fill="#2a2e39"/><rect x="845.5" y="403.5" width="6" height="4" fill="#2a2e39"/><rect x="854.5" y="406.5" width="6" height="6" fill="#2a2e39"/><rect x="863.5" y="412.5" width="6" height="7" fill="#2a2e39"/><rect x="872.5" y="419.5" width="6" height="5" fill="#ffffff"/><rect x="881.5" y="412.5" width="6" height="2" fill="#ffffff"/><rect x="890.5" y="403.5" width="6" height="2" fill="#ffffff"/><rect x="899.5" y="399.5" width="6" height="4" fill="#ffffff"/><rect x="908.5" y="395.5" width="6" height="9" fill="#2a2e39"/><rect x="917.5" y="403.5" width="6" height="3" fill="#2a2e39"/><rect x="926.5" y="400.5" width="6" height="7" fill="#ffffff"/><rect x="935.5" y="370.5" width="6" height="30" fill="#ffffff"/><rect x="944" y="370" width="7" height="1" fill="#000000" stroke="none"/><rect x="953.5" y="378.5" width="6" height="6" fill="#2a2e39"/><rect x="962.5" y="389.5" width="6" height="3" fill="#2a2e39"/><rect x="971.5" y="378.5" width="6" height="14" fill="#ffffff"/><rect x="980.5" y="375.5" width="6" height="9" fill="#2a2e39"/><rect x="989.5" y="371.5" width="6" height="13" fill="#ffffff"/><rect x="998.5" y="371.5" width="6" height="6" fill="#2a2e39"/><rect x="1007.5" y="368.5" width="6" height="10" fill="#ffffff"/><rect x="1016.5" y="371.5" width="6" height="5" fill="#2a2e39"/><rect x="1025.5" y="371.5" width="6" height="3" fill="#ffffff"/><rect x="1034.5" y="365.5" width="6" height="2" fill="#ffffff"/><rect x="1043.5" y="365.5" width="6" height="6" fill="#2a2e39"/><rect x="1052.5" y="372.5" width="6" height="12" fill="#2a2e39"/><rect x="1061.5" y="357.5" width="6" height="27" fill="#ffffff"/><rect x="1070.5" y="355.5" width="6" height="3" fill="#2a2e39"/><rect x="1079.5" y="355.5" width="6" height="3" fill="#ffffff"/><rect x="1088.5" y="350.5" width="6" height="4" fill="#ffffff"/><rect x="1097.5" y="347.5" width="6" height="10" fill="#2a2e39"/><rect x="1106" y="360" width="7" height="2" fill="#000000" stroke="none"/><rect x="1115.5" y="343.5" width="6" height="18" fill="#ffffff"/><rect x="1124.5" y="320.5" width="6" height="21" fill="#ffffff"/><rect x="1133.5" y="323.5" width="6" height="3" fill="#ffffff"/><rect x="1142" y="322" width="7" height="1" fill="#000000" stroke="none"/><rect x="1151.5" y="319.5" width="6" height="3" fill="#ffffff"/><rect x="1160.5" y="302.5" width="6" height="25" fill="#ffffff"/><rect x="1169.5" y="302.5" width="6" height="4" fill="#2a2e39"/><rect x="1178.5" y="292.5" width="6" height="14" fill="#ffffff"/><rect x="1187.5" y="278.5" width="6" height="14" fill="#ffffff"/><rect x="1196" y="278" width="7" height="1" fill="#000000" stroke="none"/><rect x="1205" y="277" width="7" height="2" fill="#000000" stroke="none"/><rect x="1214.5" y="277.5" width="6" height="8" fill="#2a2e39"/><rect x="1223.5" y="287.5" width="6" height="5" fill="#ffffff"/><rect x="1232" y="291" width="7" height="2" fill="#000000" stroke="none"/><rect x="1241.5" y="295.5" width="6" height="10" fill="#2a2e39"/><rect x="1250" y="307" width="7" height="2" fill="#000000" stroke="none"/><rect x="1259.5" y="291.5" width="6" height="18" fill="#ffffff"/><rect x="1268.5" y="261.5" width="6" height="23" fill="#ffffff"/><rect x="1277.5" y="260.5" width="6" height="7" fill="#2a2e39"/><rect x="1286.5" y="260.5" width="6" height="7" fill="#ffffff"/><rect x="1295.5" y="264.5" width="6" height="10" fill="#2a2e39"/><rect x="1304" y="274" width="7" height="1" fill="#000000" stroke="none"/><rect x="1313.5" y="271.5" width="6" height="6" fill="#ffffff"/><rect x="1322.5" y="263.5" width="6" height="8" fill="#ffffff"/><rect x="1331.5" y="260.5" width="6" height="7" fill="#2a2e39"/><rect x="1340.5" y="265.5" width="6" height="2" fill="#2a2e39"/><rect x="1349.5" y="260.5" width="6" height="4" fill="#2a2e39"/><rect x="1358.5" y="250.5" width="6" height="10" fill="#ffffff"/><rect x="1367.5" y="212.5" width="6" height="30" fill="#ffffff"/><rect x="1376" y="211" width="7" height="2" fill="#000000" stroke="none"/><rect x="1385.5" y="207.5" width="6" height="8" fill="#ffffff"/><rect x="1394.5" y="204.5" width="6" height="4" fill="#ffffff"/><rect x="1403.5" y="152.5" width="6" height="43" fill="#ffffff"/><rect x="1412.5" y="148.5" width="6" height="2" fill="#ffffff"/><rect x="1421.5" y="148.5" width="6" height="14" fill="#2a2e39"/><rect x="1430.5" y="152.5" width="6" height="17" fill="#ffffff"/><rect x="1439.5" y="153.5" width="6" height="4" fill="#2a2e39"/></g>
</g>
<rect x="267.35" y="535.4" width="25.9" height="25.8" rx="4.7" fill="#ffffff"/>
<rect x="269.35" y="537.4" width="21.9" height="21.8" rx="3.2" fill="#ffffff" stroke="#444444" stroke-width="1.8"/>
<text x="276.45" y="553.85" font-size="15.3" font-weight="bold" fill="#333333" textLength="8.3" lengthAdjust="spacingAndGlyphs">E</text>
<rect x="826.35" y="535.4" width="25.9" height="25.8" rx="4.7" fill="#ffffff"/>
<rect x="828.35" y="537.4" width="21.9" height="21.8" rx="3.2" fill="#ffffff" stroke="#444444" stroke-width="1.8"/>
<text x="835.45" y="553.85" font-size="15.3" font-weight="bold" fill="#333333" textLength="8.3" lengthAdjust="spacingAndGlyphs">E</text>
<rect x="1348.45" y="535.4" width="25.9" height="25.8" rx="4.7" fill="#ffffff"/>
<rect x="1350.45" y="537.4" width="21.9" height="21.8" rx="3.2" fill="#ffffff" stroke="#444444" stroke-width="1.8"/>
<text x="1357.55" y="553.85" font-size="15.3" font-weight="bold" fill="#333333" textLength="8.3" lengthAdjust="spacingAndGlyphs">E</text>
<circle cx="1442.6" cy="548.3" r="14.200000000000001" fill="#ffffff"/>
<circle cx="1442.6" cy="548.3" r="12.3" fill="#ffffff" stroke="#8e1aab" stroke-width="1.8"/>
<polygon points="1446.8,541.6 1436.3,549.5 1442.4,549.1 1438.5,555.1 1448.8,547.3 1442.9,547.6" fill="#8e1aab"/>
<g clip-path="url(#cpMacd)">
<rect x="15.05" y="612.5" width="7.9" height="2.5" fill="#ff5252"/>
<rect x="24.05" y="612.5" width="7.9" height="3.5" fill="#ff5252"/>
<rect x="33.05" y="612.5" width="7.9" height="1.3" fill="#ffcdd2"/>
<rect x="42.05" y="612.5" width="7.9" height="0.8" fill="#ffcdd2"/>
<rect x="51.05" y="611.7" width="7.9" height="0.8" fill="#26a69a"/>
<rect x="60.05" y="611.7" width="7.9" height="0.8" fill="#26a69a"/>
<rect x="69.05" y="611.7" width="7.9" height="0.8" fill="#26a69a"/>
<rect x="78.05" y="611.7" width="7.9" height="0.8" fill="#b2dfdb"/>
<rect x="87.05" y="611.7" width="7.9" height="0.8" fill="#b2dfdb"/>
<rect x="96.05" y="611.5" width="7.9" height="1" fill="#26a69a"/>
<rect x="105.05" y="611.7" width="7.9" height="0.8" fill="#b2dfdb"/>
<rect x="114.05" y="611.7" width="7.9" height="0.8" fill="#b2dfdb"/>
<rect x="123.05" y="612.5" width="7.9" height="1.3" fill="#ff5252"/>
<rect x="132.05" y="612.5" width="7.9" height="2.5" fill="#ff5252"/>
<rect x="141.05" y="612.5" width="7.9" height="4" fill="#ff5252"/>
<rect x="150.05" y="612.5" width="7.9" height="4.4" fill="#ff5252"/>
<rect x="159.05" y="612.5" width="7.9" height="4.5" fill="#ff5252"/>
<rect x="168.05" y="612.5" width="7.9" height="4.6" fill="#ff5252"/>
<rect x="177.05" y="612.5" width="7.9" height="3.5" fill="#ffcdd2"/>
<rect x="186.05" y="612.5" width="7.9" height="3.5" fill="#ffcdd2"/>
<rect x="195.05" y="612.5" width="7.9" height="4.8" fill="#ff5252"/>
<rect x="204.05" y="612.5" width="7.9" height="4.9" fill="#ff5252"/>
<rect x="213.05" y="612.5" width="7.9" height="6.7" fill="#ff5252"/>
<rect x="222.05" y="612.5" width="7.9" height="7.7" fill="#ff5252"/>
<rect x="231.05" y="612.5" width="7.9" height="8.6" fill="#ff5252"/>
<rect x="240.05" y="612.5" width="7.9" height="8.7" fill="#ff5252"/>
<rect x="249.05" y="612.5" width="7.9" height="8.2" fill="#ffcdd2"/>
<rect x="258.05" y="612.5" width="7.9" height="8.6" fill="#ff5252"/>
<rect x="267.05" y="612.5" width="7.9" height="8.7" fill="#ff5252"/>
<rect x="276.05" y="612.5" width="7.9" height="6.4" fill="#ffcdd2"/>
<rect x="285.05" y="612.5" width="7.9" height="3.4" fill="#ffcdd2"/>
<rect x="294.05" y="612.5" width="7.9" height="2.2" fill="#ffcdd2"/>
<rect x="303.05" y="611.7" width="7.9" height="0.8" fill="#26a69a"/>
<rect x="312.05" y="608.9" width="7.9" height="3.6" fill="#26a69a"/>
<rect x="321.05" y="608.2" width="7.9" height="4.3" fill="#26a69a"/>
<rect x="330.05" y="608.5" width="7.9" height="4" fill="#b2dfdb"/>
<rect x="339.05" y="606.9" width="7.9" height="5.6" fill="#26a69a"/>
<rect x="348.05" y="606.7" width="7.9" height="5.8" fill="#26a69a"/>
<rect x="357.05" y="608.2" width="7.9" height="4.3" fill="#b2dfdb"/>
<rect x="366.05" y="608.4" width="7.9" height="4.1" fill="#b2dfdb"/>
<rect x="375.05" y="609.2" width="7.9" height="3.3" fill="#b2dfdb"/>
<rect x="384.05" y="609.4" width="7.9" height="3.1" fill="#b2dfdb"/>
<rect x="393.05" y="611.2" width="7.9" height="1.3" fill="#b2dfdb"/>
<rect x="402.05" y="612.5" width="7.9" height="2.8" fill="#ff5252"/>
<rect x="411.05" y="612.5" width="7.9" height="5.1" fill="#ff5252"/>
<rect x="420.05" y="612.5" width="7.9" height="7.2" fill="#ff5252"/>
<rect x="429.05" y="612.5" width="7.9" height="5.9" fill="#ffcdd2"/>
<rect x="438.05" y="612.5" width="7.9" height="5.1" fill="#ffcdd2"/>
<rect x="447.05" y="612.5" width="7.9" height="4.1" fill="#ffcdd2"/>
<rect x="456.05" y="612.5" width="7.9" height="2.3" fill="#ffcdd2"/>
<rect x="465.05" y="612.5" width="7.9" height="2" fill="#ffcdd2"/>
<rect x="474.05" y="612.5" width="7.9" height="1" fill="#ffcdd2"/>
<rect x="483.05" y="611" width="7.9" height="1.5" fill="#26a69a"/>
<rect x="492.05" y="610.9" width="7.9" height="1.6" fill="#26a69a"/>
<rect x="501.05" y="609.9" width="7.9" height="2.6" fill="#26a69a"/>
<rect x="510.05" y="608.9" width="7.9" height="3.6" fill="#26a69a"/>
<rect x="519.05" y="607.9" width="7.9" height="4.6" fill="#26a69a"/>
<rect x="528.05" y="606.9" width="7.9" height="5.6" fill="#26a69a"/>
<rect x="537.05" y="604.8" width="7.9" height="7.7" fill="#26a69a"/>
<rect x="546.05" y="604.7" width="7.9" height="7.8" fill="#26a69a"/>
<rect x="555.05" y="604.6" width="7.9" height="7.9" fill="#26a69a"/>
<rect x="564.05" y="604.1" width="7.9" height="8.4" fill="#26a69a"/>
<rect x="573.05" y="603" width="7.9" height="9.5" fill="#26a69a"/>
<rect x="582.05" y="602.9" width="7.9" height="9.6" fill="#26a69a"/>
<rect x="591.05" y="603.1" width="7.9" height="9.4" fill="#b2dfdb"/>
<rect x="600.05" y="602.9" width="7.9" height="9.6" fill="#26a69a"/>
<rect x="609.05" y="602" width="7.9" height="10.5" fill="#26a69a"/>
<rect x="618.05" y="601" width="7.9" height="11.5" fill="#26a69a"/>
<rect x="628.05" y="601.2" width="7.9" height="11.3" fill="#b2dfdb"/>
<rect x="637.05" y="603" width="7.9" height="9.5" fill="#b2dfdb"/>
<rect x="646.05" y="604.8" width="7.9" height="7.7" fill="#b2dfdb"/>
<rect x="655.05" y="606.9" width="7.9" height="5.6" fill="#b2dfdb"/>
<rect x="664.05" y="609.9" width="7.9" height="2.6" fill="#b2dfdb"/>
<rect x="673.05" y="612.5" width="7.9" height="0.8" fill="#ff5252"/>
<rect x="682.05" y="612.5" width="7.9" height="1" fill="#ff5252"/>
<rect x="691.05" y="612.5" width="7.9" height="2" fill="#ff5252"/>
<rect x="700.05" y="612.5" width="7.9" height="3" fill="#ff5252"/>
<rect x="709.05" y="612.5" width="7.9" height="3.1" fill="#ff5252"/>
<rect x="718.05" y="612.5" width="7.9" height="4.3" fill="#ff5252"/>
<rect x="727.05" y="612.5" width="7.9" height="4.1" fill="#ffcdd2"/>
<rect x="736.05" y="612.5" width="7.9" height="4.3" fill="#ff5252"/>
<rect x="745.05" y="612.5" width="7.9" height="5.1" fill="#ff5252"/>
<rect x="754.05" y="612.5" width="7.9" height="6.1" fill="#ff5252"/>
<rect x="763.05" y="612.5" width="7.9" height="5.1" fill="#ffcdd2"/>
<rect x="772.05" y="612.5" width="7.9" height="4.9" fill="#ffcdd2"/>
<rect x="781.05" y="612.5" width="7.9" height="3" fill="#ffcdd2"/>
<rect x="790.05" y="612.5" width="7.9" height="2.6" fill="#ffcdd2"/>
<rect x="799.05" y="612.5" width="7.9" height="2" fill="#ffcdd2"/>
<rect x="808.05" y="612.5" width="7.9" height="1.3" fill="#ffcdd2"/>
<rect x="817.05" y="612.5" width="7.9" height="1.2" fill="#ffcdd2"/>
<rect x="826.05" y="612.5" width="7.9" height="0.8" fill="#ffcdd2"/>
<rect x="835.05" y="612.5" width="7.9" height="0.8" fill="#ffcdd2"/>
<rect x="844.05" y="612.5" width="7.9" height="0.8" fill="#ffcdd2"/>
<rect x="853.05" y="612.5" width="7.9" height="0.8" fill="#ff5252"/>
<rect x="862.05" y="612.5" width="7.9" height="1.3" fill="#ff5252"/>
<rect x="871.05" y="612.5" width="7.9" height="1.4" fill="#ff5252"/>
<rect x="880.05" y="612.5" width="7.9" height="0.8" fill="#ffcdd2"/>
<rect x="889.05" y="611.7" width="7.9" height="0.8" fill="#26a69a"/>
<rect x="898.05" y="611.2" width="7.9" height="1.3" fill="#26a69a"/>
<rect x="907.05" y="611.1" width="7.9" height="1.4" fill="#26a69a"/>
<rect x="916.05" y="611.3" width="7.9" height="1.2" fill="#b2dfdb"/>
<rect x="925.05" y="610.2" width="7.9" height="2.3" fill="#26a69a"/>
<rect x="934.05" y="608.2" width="7.9" height="4.3" fill="#26a69a"/>
<rect x="943.05" y="606.9" width="7.9" height="5.6" fill="#26a69a"/>
<rect x="952.05" y="608.9" width="7.9" height="3.6" fill="#b2dfdb"/>
<rect x="961.05" y="609.9" width="7.9" height="2.6" fill="#b2dfdb"/>
<rect x="970.05" y="608.9" width="7.9" height="3.6" fill="#26a69a"/>
<rect x="979.05" y="609.9" width="7.9" height="2.6" fill="#b2dfdb"/>
<rect x="988.05" y="609.4" width="7.9" height="3.1" fill="#26a69a"/>
<rect x="997.05" y="609.9" width="7.9" height="2.6" fill="#b2dfdb"/>
<rect x="1006.05" y="608.9" width="7.9" height="3.6" fill="#26a69a"/>
<rect x="1015.05" y="609.2" width="7.9" height="3.3" fill="#b2dfdb"/>
<rect x="1024.05" y="610.2" width="7.9" height="2.3" fill="#b2dfdb"/>
<rect x="1033.05" y="609.9" width="7.9" height="2.6" fill="#26a69a"/>
<rect x="1042.05" y="610.3" width="7.9" height="2.2" fill="#b2dfdb"/>
<rect x="1051.05" y="611.1" width="7.9" height="1.4" fill="#b2dfdb"/>
<rect x="1060.05" y="610.8" width="7.9" height="1.7" fill="#26a69a"/>
<rect x="1069.05" y="610.2" width="7.9" height="2.3" fill="#26a69a"/>
<rect x="1078.05" y="610" width="7.9" height="2.5" fill="#26a69a"/>
<rect x="1087.05" y="609.9" width="7.9" height="2.6" fill="#26a69a"/>
<rect x="1096.05" y="610.2" width="7.9" height="2.3" fill="#b2dfdb"/>
<rect x="1105.05" y="611.1" width="7.9" height="1.4" fill="#b2dfdb"/>
<rect x="1114.05" y="610.2" width="7.9" height="2.3" fill="#26a69a"/>
<rect x="1123.05" y="609.1" width="7.9" height="3.4" fill="#26a69a"/>
<rect x="1132.05" y="608.3" width="7.9" height="4.2" fill="#26a69a"/>
<rect x="1141.05" y="608.2" width="7.9" height="4.3" fill="#26a69a"/>
<rect x="1150.05" y="608.3" width="7.9" height="4.2" fill="#b2dfdb"/>
<rect x="1159.05" y="607.2" width="7.9" height="5.3" fill="#26a69a"/>
<rect x="1168.05" y="608.3" width="7.9" height="4.2" fill="#b2dfdb"/>
<rect x="1177.05" y="607.2" width="7.9" height="5.3" fill="#26a69a"/>
<rect x="1186.05" y="606.3" width="7.9" height="6.2" fill="#26a69a"/>
<rect x="1195.05" y="606.2" width="7.9" height="6.3" fill="#26a69a"/>
<rect x="1204.05" y="607.2" width="7.9" height="5.3" fill="#b2dfdb"/>
<rect x="1213.05" y="608.3" width="7.9" height="4.2" fill="#b2dfdb"/>
<rect x="1222.05" y="609.4" width="7.9" height="3.1" fill="#b2dfdb"/>
<rect x="1231.05" y="611.1" width="7.9" height="1.4" fill="#b2dfdb"/>
<rect x="1240.05" y="612.5" width="7.9" height="1.4" fill="#ff5252"/>
<rect x="1249.05" y="612.5" width="7.9" height="2.3" fill="#ff5252"/>
<rect x="1258.05" y="612.5" width="7.9" height="2.5" fill="#ff5252"/>
<rect x="1267.05" y="612.5" width="7.9" height="0.8" fill="#ffcdd2"/>
<rect x="1276.05" y="611.7" width="7.9" height="0.8" fill="#26a69a"/>
<rect x="1285.05" y="611.1" width="7.9" height="1.4" fill="#26a69a"/>
<rect x="1294.05" y="612.5" width="7.9" height="0.8" fill="#ff5252"/>
<rect x="1303.05" y="612.5" width="7.9" height="1.4" fill="#ff5252"/>
<rect x="1312.05" y="612.5" width="7.9" height="1.5" fill="#ff5252"/>
<rect x="1321.05" y="612.5" width="7.9" height="1.1" fill="#ffcdd2"/>
<rect x="1330.05" y="612.5" width="7.9" height="1.4" fill="#ff5252"/>
<rect x="1339.05" y="612.5" width="7.9" height="1.5" fill="#ff5252"/>
<rect x="1348.05" y="612.5" width="7.9" height="1.6" fill="#ff5252"/>
<rect x="1357.05" y="612.5" width="7.9" height="1.1" fill="#ffcdd2"/>
<rect x="1366.05" y="610.2" width="7.9" height="2.3" fill="#26a69a"/>
<rect x="1375.05" y="609.4" width="7.9" height="3.1" fill="#26a69a"/>
<rect x="1384.05" y="608.3" width="7.9" height="4.2" fill="#26a69a"/>
<rect x="1393.05" y="608.2" width="7.9" height="4.3" fill="#26a69a"/>
<rect x="1402.05" y="605.5" width="7.9" height="7" fill="#26a69a"/>
<rect x="1411.05" y="603.2" width="7.9" height="9.3" fill="#26a69a"/>
<rect x="1420.05" y="604.1" width="7.9" height="8.4" fill="#b2dfdb"/>
<rect x="1429.05" y="604.2" width="7.9" height="8.3" fill="#b2dfdb"/>
<rect x="1438.05" y="606.3" width="7.9" height="6.2" fill="#b2dfdb"/>
<polyline points="13,610.5 18.5,611.08 27.5,611.7 36.5,612.17 45.5,612.4 54.5,612.13 63.5,611.58 72.5,611.1 81.5,610.76 90.5,610.44 99.5,610.2 108.5,610.1 117.5,610.22 126.5,610.5 135.5,611.36 144.5,612.6 153.5,613.78 162.5,614.9 171.5,615.78 180.5,616.57 189.5,617.4 198.5,618.24 207.5,619.3 216.5,621.24 225.5,623.6 234.5,625.81 243.5,628 252.5,630.21 261.5,632.2 270.5,633.85 279.5,635.1 288.5,635.8 297.5,636.3 306.5,636 315.5,635.37 324.5,634.5 333.5,633.49 342.5,632.4 351.5,631.38 360.5,630.4 369.5,629.4 378.5,628.6 387.5,628.06 396.5,627.8 405.5,628.6 414.5,629.9 423.5,631.55 432.5,633.2 441.5,634.5 450.5,635.36 459.5,636 468.5,636.53 477.5,636.8 486.5,636.63 495.5,636.3 504.5,635.97 513.5,635.5 522.5,634.56 531.5,633.2 540.5,631.39 549.5,629.4 558.5,627.74 567.5,626 576.5,623.77 585.5,621.4 594.5,619.29 603.5,617.1 612.5,614.5 621.5,612 631.5,609.4 640.5,607.1 649.5,605.1 658.5,604 667.5,603.5 676.5,603.8 685.5,603.88 694.5,604.45 703.5,605.2 712.5,606.15 721.5,607 730.5,607.9 739.5,608.9 748.5,609.92 757.5,611.17 766.5,612.65 775.5,614.23 784.5,615.67 793.5,616.42 802.5,616.62 811.5,616.73 820.5,616.75 829.5,616.75 838.5,616.77 847.5,616.9 856.5,617.1 865.5,617.35 874.5,617.7 883.5,618 892.5,618.05 901.5,617.85 910.5,617.48 919.5,617.08 928.5,616.52 937.5,615.58 946.5,614.17 955.5,612.6 964.5,611.67 973.5,611.12 982.5,610.23 991.5,609.38 1000.5,608.88 1009.5,608.55 1018.5,607.95 1027.5,607.12 1036.5,606.7 1045.5,606.55 1054.5,606.2 1063.5,605.75 1072.5,605.4 1081.5,605.05 1090.5,604.65 1099.5,604.3 1108.5,604 1117.5,603.5 1126.5,602.65 1135.5,601.67 1144.5,600.7 1153.5,599.82 1162.5,598.83 1171.5,597.55 1180.5,596.5 1189.5,595.58 1198.5,594.32 1207.5,592.88 1216.5,591.68 1225.5,590.85 1234.5,590.15 1243.5,589.92 1252.5,590.6 1261.5,591.42 1270.5,591.92 1279.5,592.3 1288.5,592.15 1297.5,591.58 1306.5,591.42 1315.5,591.85 1324.5,592.38 1333.5,592.78 1342.5,593.12 1351.5,593.33 1360.5,593.4 1369.5,593.17 1378.5,592.4 1387.5,591.35 1396.5,589.8 1405.5,588.08 1414.5,586.57 1423.5,584.77 1432.5,582.77 1441.5,581.2" fill="none" stroke="#16279b" stroke-width="1.3" stroke-linejoin="round" stroke-linecap="round" />
<polyline points="13,613 18.5,613.93 27.5,614.4 36.5,613.63 45.5,612.4 54.5,611.37 63.5,610.38 72.5,609.8 81.5,609.56 90.5,609.37 99.5,609.24 108.5,609.2 117.5,609.81 126.5,611.1 135.5,613.39 144.5,615.9 153.5,617.46 162.5,618.8 171.5,620.1 180.5,620.41 189.5,620.7 198.5,621.77 207.5,623.6 216.5,626.72 225.5,630.3 234.5,633.04 243.5,635.5 252.5,637.79 261.5,639.9 270.5,641.8 279.5,640.8 288.5,639.3 297.5,637.5 306.5,635 315.5,631.9 324.5,630.4 333.5,629.4 342.5,627.3 351.5,626.3 360.5,625.75 369.5,625.5 378.5,625.5 387.5,625.5 396.5,626.8 405.5,631.9 414.5,635 423.5,638.3 432.5,639.6 441.5,640.1 450.5,639.61 459.5,638.8 468.5,638.23 477.5,637.5 486.5,635.8 495.5,635 504.5,634.5 513.5,632.4 522.5,630.6 531.5,628.1 540.5,624.8 549.5,622.2 558.5,620.2 567.5,617.1 576.5,614 585.5,612 594.5,610.2 603.5,607.4 612.5,604.3 621.5,600.5 631.5,598.7 640.5,597.9 649.5,597.9 658.5,599.7 667.5,601.7 676.5,603.8 685.5,605.1 694.5,606.3 703.5,608.1 712.5,609.4 721.5,611.2 730.5,612 739.5,613.2 748.5,615 757.5,617.1 766.5,617.9 775.5,618.9 784.5,619.1 793.5,619.1 802.5,618.6 811.5,618.1 820.5,617.9 829.5,617.3 838.5,617.1 847.5,617.3 856.5,617.9 865.5,618.6 874.5,619.1 883.5,618.6 892.5,617.6 901.5,616.6 910.5,616.1 919.5,615.8 928.5,614.5 937.5,611.2 946.5,608.9 955.5,608.6 964.5,608.9 973.5,607.9 982.5,607.4 991.5,606.3 1000.5,606.1 1009.5,605.1 1018.5,604.8 1027.5,604.6 1036.5,604 1045.5,604.5 1054.5,604.8 1063.5,604 1072.5,603.1 1081.5,602.6 1090.5,602 1099.5,602 1108.5,602.6 1117.5,601.4 1126.5,599.2 1135.5,597.5 1144.5,596.4 1153.5,595.5 1162.5,593.9 1171.5,593 1180.5,591.3 1189.5,589.4 1198.5,588.2 1207.5,587.4 1216.5,587.4 1225.5,587.7 1234.5,588.8 1243.5,590.8 1252.5,593 1261.5,594.1 1270.5,592.4 1279.5,591.9 1288.5,591 1297.5,591.9 1306.5,592.7 1315.5,593.3 1324.5,593.6 1333.5,594.1 1342.5,594.7 1351.5,595 1360.5,594.4 1369.5,591.3 1378.5,589.1 1387.5,587.4 1396.5,585.7 1405.5,580.6 1414.5,577.8 1423.5,576.1 1432.5,574.7 1441.5,574.4" fill="none" stroke="#f23645" stroke-width="1.3" stroke-linejoin="round" stroke-linecap="round" />
</g>
<g clip-path="url(#cpRsi)">
<polygon points="617.7,683.5 621.5,680.5 626.58,683.5" fill="url(#gOB)"/>
<polygon points="1125.44,683.5 1126.5,682.5 1130.41,683.5" fill="url(#gOB)"/>
<polygon points="1146.95,683.5 1153.5,682.7 1162.5,677.8 1171.5,681.1 1180.5,677 1189.5,673.5 1198.5,673.5 1207.5,672.9 1216.5,680 1225.5,681.9 1228.44,683.5" fill="url(#gOB)"/>
<polygon points="1267.7,683.5 1270.5,680.3 1277.7,683.5" fill="url(#gOB)"/>
<polygon points="1281.9,683.5 1288.5,681.3 1290.46,683.5" fill="url(#gOB)"/>
<polygon points="1358.93,683.5 1360.5,682.4 1369.5,672.4 1378.5,671.9 1387.5,671.3 1396.5,670.5 1405.5,662.1 1414.5,661.7 1423.5,671.6 1432.5,669.7 1441.5,673.8 1441.5,683.5" fill="url(#gOB)"/>
<polygon points="213.56,734.5 216.5,738 225.5,740.1 234.5,741.1 243.5,742.6 252.5,743.9 261.5,746.2 270.5,748 277.69,734.5" fill="url(#gOS)"/>
<polygon points="401.77,734.5 405.5,739.6 414.5,735.7 423.5,739 428.21,734.5" fill="url(#gOS)"/>
</g>
<g clip-path="url(#cpRsi)">
<polyline points="13,713.2 18.5,715.3 27.5,717.6 36.5,706.8 45.5,702.7 54.5,703.5 63.5,701.7 72.5,699.4 81.5,706.3 90.5,706.3 99.5,703 108.5,705.5 117.5,709.4 126.5,719.6 135.5,722.4 144.5,726.8 153.5,721.7 162.5,724.2 171.5,726.8 180.5,722.2 189.5,716.3 198.5,729.3 207.5,727.3 216.5,738 225.5,740.1 234.5,741.1 243.5,742.6 252.5,743.9 261.5,746.2 270.5,748 279.5,731.1 288.5,721.1 297.5,724.7 306.5,719.1 315.5,708.6 324.5,715 333.5,718.3 342.5,712.4 351.5,714 360.5,717.1 369.5,718.6 378.5,719.1 387.5,720.1 396.5,727.3 405.5,739.6 414.5,735.7 423.5,739 432.5,730.4 441.5,730.6 450.5,723.4 459.5,726 468.5,727.3 477.5,726.5 486.5,721.1 495.5,723.2 504.5,725.2 513.5,716.3 522.5,718.1 531.5,708.9 540.5,703.8 549.5,706.6 558.5,707.3 567.5,699.4 576.5,697.6 585.5,696.6 594.5,697.6 603.5,690.7 612.5,687.6 621.5,680.5 631.5,686.4 640.5,691.5 649.5,695.6 658.5,705.5 667.5,708.4 676.5,713.2 685.5,709.4 694.5,708.1 703.5,713.7 712.5,713.2 721.5,714.2 730.5,712.7 739.5,719.1 748.5,725.7 757.5,724 766.5,719.6 775.5,721.4 784.5,716 793.5,714 802.5,711.4 811.5,712.5 820.5,715 829.5,713 838.5,715.3 847.5,715.8 856.5,718.6 865.5,723.2 874.5,723.2 883.5,716 892.5,709.4 901.5,706.1 910.5,709.4 919.5,711.7 928.5,707.3 937.5,688.2 946.5,688.2 955.5,699.7 964.5,705.3 973.5,697.6 982.5,701.5 991.5,695.1 1000.5,699.2 1009.5,694.8 1018.5,699.7 1027.5,697.6 1036.5,694.8 1045.5,698.9 1054.5,707.6 1063.5,694.3 1072.5,695.1 1081.5,694 1090.5,691.5 1099.5,696.8 1108.5,699.7 1117.5,691 1126.5,682.5 1135.5,684.8 1144.5,683.8 1153.5,682.7 1162.5,677.8 1171.5,681.1 1180.5,677 1189.5,673.5 1198.5,673.5 1207.5,672.9 1216.5,680 1225.5,681.9 1234.5,686.8 1243.5,696.3 1252.5,698.4 1261.5,690.6 1270.5,680.3 1279.5,684.3 1288.5,681.3 1297.5,691.4 1306.5,691.4 1315.5,690.3 1324.5,687.3 1333.5,690.3 1342.5,690 1351.5,688.7 1360.5,682.4 1369.5,672.4 1378.5,671.9 1387.5,671.3 1396.5,670.5 1405.5,662.1 1414.5,661.7 1423.5,671.6 1432.5,669.7 1441.5,673.8" fill="none" stroke="#f23645" stroke-width="1.3" stroke-linejoin="round" stroke-linecap="round" />
<polyline points="18.5,712.24 27.5,712.64 36.5,712.26 45.5,711.6 54.5,710.99 63.5,710.26 72.5,709.36 81.5,708.95 90.5,708.54 99.5,707.9 108.5,707.44 117.5,707.25 126.5,707.79 135.5,708.54 144.5,709.36 153.5,709.65 162.5,710.89 171.5,712.61 180.5,713.95 189.5,714.99 198.5,717.13 207.5,718.63 216.5,720.89 225.5,723.54 234.5,726.09 243.5,728.46 252.5,730.19 261.5,731.89 270.5,733.41 279.5,734.08 288.5,733.86 297.5,733.71 306.5,733.49 315.5,732.94 324.5,731.91 333.5,731.27 342.5,729.44 351.5,727.58 360.5,725.86 369.5,724.15 378.5,722.38 387.5,720.51 396.5,719.04 405.5,719.64 414.5,720.69 423.5,721.71 432.5,722.51 441.5,724.09 450.5,724.69 459.5,725.24 468.5,726.3 477.5,727.19 486.5,727.48 495.5,727.81 504.5,728.24 513.5,727.97 522.5,727.31 531.5,725.12 540.5,722.84 549.5,720.53 558.5,718.88 567.5,716.65 576.5,714.81 585.5,712.71 594.5,710.59 603.5,708.03 612.5,705.64 621.5,702.59 631.5,699.81 640.5,698.04 649.5,696.44 658.5,696.19 667.5,696.52 676.5,696.99 685.5,697.14 694.5,697.76 703.5,698.91 712.5,700.1 721.5,701.29 730.5,702.86 739.5,705.11 748.5,708.34 757.5,711.02 766.5,713.03 775.5,714.87 784.5,715.62 793.5,716.02 802.5,715.89 811.5,716.11 820.5,716.61 829.5,716.56 838.5,716.71 847.5,716.82 856.5,717.24 865.5,717.54 874.5,717.36 883.5,716.79 892.5,716.06 901.5,714.96 910.5,714.49 919.5,714.33 928.5,714.04 937.5,712.3 946.5,710.39 955.5,709.44 964.5,708.72 973.5,707.42 982.5,706.2 991.5,704.19 1000.5,702.48 1009.5,700.96 1018.5,700.27 1027.5,699.66 1036.5,698.62 1045.5,697.71 1054.5,697.73 1063.5,698.16 1072.5,698.66 1081.5,698.25 1090.5,697.26 1099.5,697.21 1108.5,697.08 1117.5,696.79 1126.5,695.59 1135.5,694.88 1144.5,693.74 1153.5,692.68 1162.5,691.46 1171.5,690.19 1180.5,688.01 1189.5,686.52 1198.5,684.98 1207.5,683.47 1216.5,682.65 1225.5,681.59 1234.5,680.66 1243.5,681.04 1252.5,682.18 1261.5,682.59 1270.5,682.34 1279.5,682.46 1288.5,682.71 1297.5,683.44 1306.5,684.47 1315.5,685.67 1324.5,686.66 1333.5,687.9 1342.5,688.61 1351.5,689.1 1360.5,688.79 1369.5,687.08 1378.5,685.19 1387.5,683.81 1396.5,683.11 1405.5,681.52 1414.5,680.12 1423.5,678.71 1432.5,677.16 1441.5,675.98" fill="none" stroke="#ffffff" stroke-width="1.0" stroke-linejoin="round" stroke-linecap="round" />
</g>
<line x1="13" y1="683.5" x2="1486" y2="683.5" stroke="#f23645" stroke-width="1.0"/>
<line x1="13" y1="734.5" x2="1486" y2="734.5" stroke="#f23645" stroke-width="1.0"/>
<line x1="13" y1="708.5" x2="1482" y2="708.5" stroke="#b2b5be" stroke-width="1" stroke-dasharray="5 6"/>
<rect x="1487" y="63.8" width="46" height="21" rx="2" fill="#2962ff"/>
<text x="1497.3" y="79.5" font-size="15.3" fill="#ffffff" textLength="29" lengthAdjust="spacingAndGlyphs">4.25</text>
<rect x="1487" y="99.7" width="46" height="21" rx="2" fill="#2962ff"/>
<text x="1497.3" y="115.4" font-size="15.3" fill="#ffffff" textLength="29" lengthAdjust="spacingAndGlyphs">4.00</text>
<rect x="1487" y="141" width="46" height="21" rx="2" fill="#2962ff"/>
<text x="1497.3" y="156.7" font-size="15.3" fill="#ffffff" textLength="29" lengthAdjust="spacingAndGlyphs">3.70</text>
<rect x="1487" y="183.8" width="46" height="21" rx="2" fill="#2962ff"/>
<text x="1497.3" y="199.5" font-size="15.3" fill="#ffffff" textLength="29" lengthAdjust="spacingAndGlyphs">3.40</text>
<text x="1497.3" y="44.7" font-size="15.3" fill="#131722" textLength="29" lengthAdjust="spacingAndGlyphs">4.50</text>
<text x="1497.3" y="185.2" font-size="15.3" fill="#131722" textLength="29" lengthAdjust="spacingAndGlyphs">3.50</text>
<text x="1497.3" y="255.5" font-size="15.3" fill="#131722" textLength="29" lengthAdjust="spacingAndGlyphs">3.00</text>
<text x="1497.3" y="325.6" font-size="15.3" fill="#131722" textLength="29" lengthAdjust="spacingAndGlyphs">2.50</text>
<text x="1497.3" y="395.8" font-size="15.3" fill="#131722" textLength="29" lengthAdjust="spacingAndGlyphs">2.00</text>
<text x="1497.3" y="466" font-size="15.3" fill="#131722" textLength="29" lengthAdjust="spacingAndGlyphs">1.50</text>
<text x="1497.3" y="536.6" font-size="15.3" fill="#131722" textLength="29" lengthAdjust="spacingAndGlyphs">1.00</text>
<text x="1497.3" y="674.8" font-size="15.3" fill="#131722" textLength="36.3" lengthAdjust="spacingAndGlyphs">80.00</text>
<text x="1497.3" y="726.7" font-size="15.3" fill="#131722" textLength="36.3" lengthAdjust="spacingAndGlyphs">40.00</text>
<text x="1497.3" y="616.8" font-size="15.3" fill="#131722" textLength="36.3" lengthAdjust="spacingAndGlyphs">0.000</text>
<rect x="1487" y="183.8" width="46" height="21" rx="2" fill="#2962ff"/>
<text x="1497.3" y="199.5" font-size="15.3" fill="#ffffff" textLength="29" lengthAdjust="spacingAndGlyphs">3.40</text>
<text x="37" y="780.6" font-size="14" fill="#131722" font-weight="bold" text-anchor="middle" >Feb</text>
<text x="208" y="780.6" font-size="14" fill="#131722" font-weight="bold" text-anchor="middle" >Mar</text>
<text x="379.6" y="780.6" font-size="14" fill="#131722" font-weight="bold" text-anchor="middle" >Apr</text>
<text x="568.5" y="780.6" font-size="14" fill="#131722" font-weight="bold" text-anchor="middle" >May</text>
<text x="748.6" y="780.6" font-size="14" fill="#131722" font-weight="bold" text-anchor="middle" >Jun</text>
<text x="919.3" y="780.6" font-size="14" fill="#131722" font-weight="bold" text-anchor="middle" >Jul</text>
<text x="1127" y="780.6" font-size="14" fill="#131722" font-weight="bold" text-anchor="middle" >Aug</text>
<text x="1316" y="780.6" font-size="14" fill="#131722" font-weight="bold" text-anchor="middle" >Sep</text>
<g clip-path="url(#cpOct)">
<text x="1466.7" y="780.6" font-size="14" fill="#131722" font-weight="bold" >Oct</text>
</g>
<g fill="#131313">
<path d="M15.3 820.3 H30.7 V838.8 H23 V827.9 H15.3 Z"/>
<circle cx="36.7" cy="824.1" r="3.8"/>
<path d="M44.5 820.3 H52.9 L45.7 838.8 H36.8 Z"/>
</g>
<text x="61.5" y="838.8" font-size="27" fill="#131313" textLength="152" lengthAdjust="spacingAndGlyphs" font-weight="bold" >TradingView</text>
</svg>
</body></html>
